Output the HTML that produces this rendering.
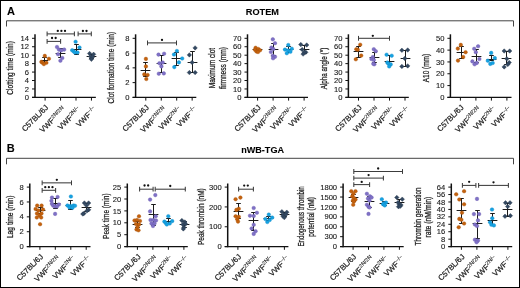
<!DOCTYPE html>
<html><head><meta charset="utf-8"><style>
html,body{margin:0;padding:0;background:#fff;}
#f{position:relative;width:518px;height:286px;border:1px solid #000;overflow:hidden;background:#fff;}
svg{position:absolute;left:-1px;top:-1px;will-change:transform;font-family:"Liberation Sans", sans-serif;}
text{stroke:#1a1a1a;} .t{stroke-width:0.12px;} .x{stroke-width:0.22px;} tspan{stroke-width:0.08px;} .y{stroke-width:0.26px;} .h{stroke-width:0.1px;}
</style></head><body><div id="f">
<svg width="520" height="288" viewBox="0 0 520 288">
<text class="h" x="6.90" y="14.60" font-size="11" text-anchor="start" font-weight="bold" fill="#000" >A</text>
<text class="h" x="262.40" y="14.80" font-size="9.2" text-anchor="middle" font-weight="bold" fill="#000" >ROTEM</text>
<path d="M6.5 26.5V20.8H513.5V26.5" fill="none" stroke="#444" stroke-width="1"/>
<text class="h" x="6.80" y="152.20" font-size="11" text-anchor="start" font-weight="bold" fill="#000" >B</text>
<text class="h" x="262.60" y="152.60" font-size="9.1" text-anchor="middle" font-weight="bold" fill="#000" >nWB-TGA</text>
<path d="M6.5 164.3V158.3H513.5V164.3" fill="none" stroke="#444" stroke-width="1"/>
<line x1="35.00" y1="34.30" x2="35.00" y2="98.00" stroke="#111" stroke-width="1.5"/>
<line x1="32.00" y1="97.40" x2="35.00" y2="97.40" stroke="#111" stroke-width="1.0"/>
<text class="t" x="29.00" y="100.00" font-size="7.6" text-anchor="end" font-weight="normal" fill="#1a1a1a" >0</text>
<line x1="32.00" y1="88.96" x2="35.00" y2="88.96" stroke="#111" stroke-width="1.0"/>
<text class="t" x="29.00" y="91.56" font-size="7.6" text-anchor="end" font-weight="normal" fill="#1a1a1a" >2</text>
<line x1="32.00" y1="80.51" x2="35.00" y2="80.51" stroke="#111" stroke-width="1.0"/>
<text class="t" x="29.00" y="83.11" font-size="7.6" text-anchor="end" font-weight="normal" fill="#1a1a1a" >4</text>
<line x1="32.00" y1="72.07" x2="35.00" y2="72.07" stroke="#111" stroke-width="1.0"/>
<text class="t" x="29.00" y="74.67" font-size="7.6" text-anchor="end" font-weight="normal" fill="#1a1a1a" >6</text>
<line x1="32.00" y1="63.63" x2="35.00" y2="63.63" stroke="#111" stroke-width="1.0"/>
<text class="t" x="29.00" y="66.23" font-size="7.6" text-anchor="end" font-weight="normal" fill="#1a1a1a" >8</text>
<line x1="32.00" y1="55.19" x2="35.00" y2="55.19" stroke="#111" stroke-width="1.0"/>
<text class="t" x="29.00" y="57.79" font-size="7.6" text-anchor="end" font-weight="normal" fill="#1a1a1a" >10</text>
<line x1="32.00" y1="46.74" x2="35.00" y2="46.74" stroke="#111" stroke-width="1.0"/>
<text class="t" x="29.00" y="49.34" font-size="7.6" text-anchor="end" font-weight="normal" fill="#1a1a1a" >12</text>
<line x1="32.00" y1="38.30" x2="35.00" y2="38.30" stroke="#111" stroke-width="1.0"/>
<text class="t" x="29.00" y="40.90" font-size="7.6" text-anchor="end" font-weight="normal" fill="#1a1a1a" >14</text>
<line x1="32.00" y1="97.40" x2="95.85" y2="97.40" stroke="#111" stroke-width="1.25"/>
<line x1="45.10" y1="97.40" x2="45.10" y2="100.60" stroke="#111" stroke-width="1.0"/>
<line x1="60.55" y1="97.40" x2="60.55" y2="100.60" stroke="#111" stroke-width="1.0"/>
<line x1="76.00" y1="97.40" x2="76.00" y2="100.60" stroke="#111" stroke-width="1.0"/>
<line x1="91.45" y1="97.40" x2="91.45" y2="100.60" stroke="#111" stroke-width="1.0"/>
<text class="x" x="0" y="0" font-size="7.7" text-anchor="end" fill="#1a1a1a" transform="translate(48.80,108.00) rotate(-45)">C57BL/6J</text>
<text class="x" x="0" y="0" font-size="7.7" text-anchor="end" fill="#1a1a1a" transform="translate(65.95,109.90) rotate(-45)">VWF<tspan font-size="5.5" dy="-2.7">2N/2N</tspan></text>
<text class="x" x="0" y="0" font-size="7.7" text-anchor="end" fill="#1a1a1a" transform="translate(81.40,109.90) rotate(-45)">VWF<tspan font-size="5.5" dy="-2.7">2N/−</tspan></text>
<text class="x" x="0" y="0" font-size="7.7" text-anchor="end" fill="#1a1a1a" transform="translate(96.85,109.90) rotate(-45)">VWF<tspan font-size="5.5" dy="-2.7">−/−</tspan></text>
<text class="y" x="0" y="0" font-size="9.0" text-anchor="middle" fill="#1a1a1a" textLength="53.6" lengthAdjust="spacingAndGlyphs" transform="translate(13.30,67.85) rotate(-90)">Clotting time (min)</text>
<line x1="47.10" y1="33.90" x2="74.40" y2="33.90" stroke="#3c3c3c" stroke-width="1.05"/>
<line x1="47.10" y1="31.50" x2="47.10" y2="36.30" stroke="#3c3c3c" stroke-width="1.05"/>
<line x1="74.40" y1="31.50" x2="74.40" y2="36.30" stroke="#3c3c3c" stroke-width="1.05"/>
<circle cx="57.80" cy="30.90" r="1.15" fill="#111"/>
<circle cx="61.40" cy="30.90" r="1.15" fill="#111"/>
<circle cx="65.00" cy="30.90" r="1.15" fill="#111"/>
<line x1="78.10" y1="33.90" x2="91.30" y2="33.90" stroke="#3c3c3c" stroke-width="1.05"/>
<line x1="78.10" y1="31.50" x2="78.10" y2="36.30" stroke="#3c3c3c" stroke-width="1.05"/>
<line x1="91.30" y1="31.50" x2="91.30" y2="36.30" stroke="#3c3c3c" stroke-width="1.05"/>
<circle cx="82.90" cy="31.00" r="1.15" fill="#111"/>
<circle cx="86.50" cy="31.00" r="1.15" fill="#111"/>
<line x1="47.10" y1="41.40" x2="60.60" y2="41.40" stroke="#3c3c3c" stroke-width="1.05"/>
<line x1="47.10" y1="39.00" x2="47.10" y2="43.80" stroke="#3c3c3c" stroke-width="1.05"/>
<line x1="60.60" y1="39.00" x2="60.60" y2="43.80" stroke="#3c3c3c" stroke-width="1.05"/>
<circle cx="52.05" cy="38.00" r="1.15" fill="#111"/>
<circle cx="55.65" cy="38.00" r="1.15" fill="#111"/>
<line x1="40.90" y1="60.50" x2="48.10" y2="60.50" stroke="#1a1a1a" stroke-width="1.0"/>
<line x1="44.50" y1="57.50" x2="44.50" y2="62.50" stroke="#1a1a1a" stroke-width="1.0"/>
<line x1="42.20" y1="57.50" x2="46.80" y2="57.50" stroke="#1a1a1a" stroke-width="1.0"/>
<line x1="42.20" y1="62.50" x2="46.80" y2="62.50" stroke="#1a1a1a" stroke-width="1.0"/>
<circle cx="44.80" cy="55.90" r="1.8" fill="#c4620e" stroke="#a85208" stroke-width="0.4"/>
<circle cx="48.90" cy="58.75" r="1.8" fill="#c4620e" stroke="#a85208" stroke-width="0.4"/>
<circle cx="41.40" cy="61.90" r="1.8" fill="#c4620e" stroke="#a85208" stroke-width="0.4"/>
<circle cx="42.60" cy="62.80" r="1.8" fill="#c4620e" stroke="#a85208" stroke-width="0.4"/>
<circle cx="46.40" cy="62.80" r="1.8" fill="#c4620e" stroke="#a85208" stroke-width="0.4"/>
<circle cx="43.90" cy="64.10" r="1.8" fill="#c4620e" stroke="#a85208" stroke-width="0.4"/>
<line x1="55.60" y1="53.50" x2="65.40" y2="53.50" stroke="#1a1a1a" stroke-width="1.0"/>
<line x1="60.50" y1="48.50" x2="60.50" y2="57.50" stroke="#1a1a1a" stroke-width="1.0"/>
<line x1="58.20" y1="48.50" x2="62.80" y2="48.50" stroke="#1a1a1a" stroke-width="1.0"/>
<line x1="58.20" y1="57.50" x2="62.80" y2="57.50" stroke="#1a1a1a" stroke-width="1.0"/>
<circle cx="57.00" cy="47.00" r="1.8" fill="#7f71c6" stroke="#6a5cb0" stroke-width="0.4"/>
<circle cx="58.90" cy="49.60" r="1.8" fill="#7f71c6" stroke="#6a5cb0" stroke-width="0.4"/>
<circle cx="64.20" cy="49.60" r="1.8" fill="#7f71c6" stroke="#6a5cb0" stroke-width="0.4"/>
<circle cx="61.20" cy="50.40" r="1.8" fill="#7f71c6" stroke="#6a5cb0" stroke-width="0.4"/>
<circle cx="58.10" cy="54.20" r="1.8" fill="#7f71c6" stroke="#6a5cb0" stroke-width="0.4"/>
<circle cx="62.30" cy="58.00" r="1.8" fill="#7f71c6" stroke="#6a5cb0" stroke-width="0.4"/>
<circle cx="60.40" cy="60.70" r="1.8" fill="#7f71c6" stroke="#6a5cb0" stroke-width="0.4"/>
<line x1="71.60" y1="49.50" x2="81.40" y2="49.50" stroke="#1a1a1a" stroke-width="1.0"/>
<line x1="76.50" y1="44.50" x2="76.50" y2="54.50" stroke="#1a1a1a" stroke-width="1.0"/>
<line x1="74.20" y1="44.50" x2="78.80" y2="44.50" stroke="#1a1a1a" stroke-width="1.0"/>
<line x1="74.20" y1="54.50" x2="78.80" y2="54.50" stroke="#1a1a1a" stroke-width="1.0"/>
<circle cx="75.60" cy="41.80" r="1.8" fill="#16a2e2" stroke="#0e8cc8" stroke-width="0.4"/>
<circle cx="79.50" cy="47.50" r="1.8" fill="#16a2e2" stroke="#0e8cc8" stroke-width="0.4"/>
<circle cx="72.20" cy="50.20" r="1.8" fill="#16a2e2" stroke="#0e8cc8" stroke-width="0.4"/>
<circle cx="73.70" cy="51.40" r="1.8" fill="#16a2e2" stroke="#0e8cc8" stroke-width="0.4"/>
<circle cx="74.90" cy="52.50" r="1.8" fill="#16a2e2" stroke="#0e8cc8" stroke-width="0.4"/>
<circle cx="77.50" cy="52.50" r="1.8" fill="#16a2e2" stroke="#0e8cc8" stroke-width="0.4"/>
<line x1="86.60" y1="56.50" x2="96.40" y2="56.50" stroke="#1a1a1a" stroke-width="1.0"/>
<line x1="91.50" y1="54.50" x2="91.50" y2="58.50" stroke="#1a1a1a" stroke-width="1.0"/>
<line x1="89.20" y1="54.50" x2="93.80" y2="54.50" stroke="#1a1a1a" stroke-width="1.0"/>
<line x1="89.20" y1="58.50" x2="93.80" y2="58.50" stroke="#1a1a1a" stroke-width="1.0"/>
<path d="M89.60 51.25L91.85 53.50L89.60 55.75L87.35 53.50Z" fill="#334861" stroke="#26384d" stroke-width="0.4" stroke-linejoin="round"/>
<path d="M93.60 52.05L95.85 54.30L93.60 56.55L91.35 54.30Z" fill="#334861" stroke="#26384d" stroke-width="0.4" stroke-linejoin="round"/>
<path d="M90.50 54.25L92.75 56.50L90.50 58.75L88.25 56.50Z" fill="#334861" stroke="#26384d" stroke-width="0.4" stroke-linejoin="round"/>
<path d="M92.50 54.75L94.75 57.00L92.50 59.25L90.25 57.00Z" fill="#334861" stroke="#26384d" stroke-width="0.4" stroke-linejoin="round"/>
<path d="M91.40 57.05L93.65 59.30L91.40 61.55L89.15 59.30Z" fill="#334861" stroke="#26384d" stroke-width="0.4" stroke-linejoin="round"/>
<line x1="135.60" y1="34.30" x2="135.60" y2="98.00" stroke="#111" stroke-width="1.5"/>
<line x1="132.60" y1="97.40" x2="135.60" y2="97.40" stroke="#111" stroke-width="1.0"/>
<text class="t" x="129.60" y="100.00" font-size="7.6" text-anchor="end" font-weight="normal" fill="#1a1a1a" >0</text>
<line x1="132.60" y1="82.62" x2="135.60" y2="82.62" stroke="#111" stroke-width="1.0"/>
<text class="t" x="129.60" y="85.22" font-size="7.6" text-anchor="end" font-weight="normal" fill="#1a1a1a" >2</text>
<line x1="132.60" y1="67.85" x2="135.60" y2="67.85" stroke="#111" stroke-width="1.0"/>
<text class="t" x="129.60" y="70.45" font-size="7.6" text-anchor="end" font-weight="normal" fill="#1a1a1a" >4</text>
<line x1="132.60" y1="53.08" x2="135.60" y2="53.08" stroke="#111" stroke-width="1.0"/>
<text class="t" x="129.60" y="55.68" font-size="7.6" text-anchor="end" font-weight="normal" fill="#1a1a1a" >6</text>
<line x1="132.60" y1="38.30" x2="135.60" y2="38.30" stroke="#111" stroke-width="1.0"/>
<text class="t" x="129.60" y="40.90" font-size="7.6" text-anchor="end" font-weight="normal" fill="#1a1a1a" >8</text>
<line x1="132.60" y1="97.40" x2="196.30" y2="97.40" stroke="#111" stroke-width="1.25"/>
<line x1="145.80" y1="97.40" x2="145.80" y2="100.60" stroke="#111" stroke-width="1.0"/>
<line x1="161.25" y1="97.40" x2="161.25" y2="100.60" stroke="#111" stroke-width="1.0"/>
<line x1="176.70" y1="97.40" x2="176.70" y2="100.60" stroke="#111" stroke-width="1.0"/>
<line x1="192.15" y1="97.40" x2="192.15" y2="100.60" stroke="#111" stroke-width="1.0"/>
<text class="x" x="0" y="0" font-size="7.7" text-anchor="end" fill="#1a1a1a" transform="translate(149.50,108.00) rotate(-45)">C57BL/6J</text>
<text class="x" x="0" y="0" font-size="7.7" text-anchor="end" fill="#1a1a1a" transform="translate(166.65,109.90) rotate(-45)">VWF<tspan font-size="5.5" dy="-2.7">2N/2N</tspan></text>
<text class="x" x="0" y="0" font-size="7.7" text-anchor="end" fill="#1a1a1a" transform="translate(182.10,109.90) rotate(-45)">VWF<tspan font-size="5.5" dy="-2.7">2N/−</tspan></text>
<text class="x" x="0" y="0" font-size="7.7" text-anchor="end" fill="#1a1a1a" transform="translate(197.55,109.90) rotate(-45)">VWF<tspan font-size="5.5" dy="-2.7">−/−</tspan></text>
<text class="y" x="0" y="0" font-size="9.0" text-anchor="middle" fill="#1a1a1a" textLength="71.6" lengthAdjust="spacingAndGlyphs" transform="translate(114.40,67.65) rotate(-90)">Clot formation time (min)</text>
<line x1="147.50" y1="42.90" x2="176.50" y2="42.90" stroke="#3c3c3c" stroke-width="1.05"/>
<line x1="147.50" y1="40.50" x2="147.50" y2="45.30" stroke="#3c3c3c" stroke-width="1.05"/>
<line x1="176.50" y1="40.50" x2="176.50" y2="45.30" stroke="#3c3c3c" stroke-width="1.05"/>
<circle cx="162.00" cy="39.90" r="1.15" fill="#111"/>
<line x1="140.60" y1="70.50" x2="150.40" y2="70.50" stroke="#1a1a1a" stroke-width="1.0"/>
<line x1="145.50" y1="62.50" x2="145.50" y2="76.50" stroke="#1a1a1a" stroke-width="1.0"/>
<line x1="143.20" y1="62.50" x2="147.80" y2="62.50" stroke="#1a1a1a" stroke-width="1.0"/>
<line x1="143.20" y1="76.50" x2="147.80" y2="76.50" stroke="#1a1a1a" stroke-width="1.0"/>
<circle cx="145.90" cy="58.90" r="1.8" fill="#c4620e" stroke="#a85208" stroke-width="0.4"/>
<circle cx="145.90" cy="66.40" r="1.8" fill="#c4620e" stroke="#a85208" stroke-width="0.4"/>
<circle cx="144.30" cy="74.40" r="1.8" fill="#c4620e" stroke="#a85208" stroke-width="0.4"/>
<circle cx="147.60" cy="75.00" r="1.8" fill="#c4620e" stroke="#a85208" stroke-width="0.4"/>
<circle cx="146.30" cy="79.00" r="1.8" fill="#c4620e" stroke="#a85208" stroke-width="0.4"/>
<line x1="156.60" y1="63.50" x2="166.40" y2="63.50" stroke="#1a1a1a" stroke-width="1.0"/>
<line x1="161.50" y1="55.50" x2="161.50" y2="72.50" stroke="#1a1a1a" stroke-width="1.0"/>
<line x1="159.20" y1="55.50" x2="163.80" y2="55.50" stroke="#1a1a1a" stroke-width="1.0"/>
<line x1="159.20" y1="72.50" x2="163.80" y2="72.50" stroke="#1a1a1a" stroke-width="1.0"/>
<circle cx="158.50" cy="54.60" r="1.8" fill="#7f71c6" stroke="#6a5cb0" stroke-width="0.4"/>
<circle cx="164.10" cy="53.70" r="1.8" fill="#7f71c6" stroke="#6a5cb0" stroke-width="0.4"/>
<circle cx="159.40" cy="63.20" r="1.8" fill="#7f71c6" stroke="#6a5cb0" stroke-width="0.4"/>
<circle cx="162.70" cy="62.50" r="1.8" fill="#7f71c6" stroke="#6a5cb0" stroke-width="0.4"/>
<circle cx="161.40" cy="66.40" r="1.8" fill="#7f71c6" stroke="#6a5cb0" stroke-width="0.4"/>
<circle cx="158.80" cy="73.70" r="1.8" fill="#7f71c6" stroke="#6a5cb0" stroke-width="0.4"/>
<circle cx="163.80" cy="73.40" r="1.8" fill="#7f71c6" stroke="#6a5cb0" stroke-width="0.4"/>
<line x1="171.60" y1="58.50" x2="181.40" y2="58.50" stroke="#1a1a1a" stroke-width="1.0"/>
<line x1="176.50" y1="52.50" x2="176.50" y2="65.50" stroke="#1a1a1a" stroke-width="1.0"/>
<line x1="174.20" y1="52.50" x2="178.80" y2="52.50" stroke="#1a1a1a" stroke-width="1.0"/>
<line x1="174.20" y1="65.50" x2="178.80" y2="65.50" stroke="#1a1a1a" stroke-width="1.0"/>
<circle cx="176.90" cy="51.00" r="1.8" fill="#16a2e2" stroke="#0e8cc8" stroke-width="0.4"/>
<circle cx="174.00" cy="54.50" r="1.8" fill="#16a2e2" stroke="#0e8cc8" stroke-width="0.4"/>
<circle cx="182.20" cy="58.50" r="1.8" fill="#16a2e2" stroke="#0e8cc8" stroke-width="0.4"/>
<circle cx="178.90" cy="62.40" r="1.8" fill="#16a2e2" stroke="#0e8cc8" stroke-width="0.4"/>
<circle cx="174.30" cy="67.10" r="1.8" fill="#16a2e2" stroke="#0e8cc8" stroke-width="0.4"/>
<line x1="187.60" y1="62.50" x2="197.40" y2="62.50" stroke="#1a1a1a" stroke-width="1.0"/>
<line x1="192.50" y1="51.50" x2="192.50" y2="72.50" stroke="#1a1a1a" stroke-width="1.0"/>
<line x1="190.20" y1="51.50" x2="194.80" y2="51.50" stroke="#1a1a1a" stroke-width="1.0"/>
<line x1="190.20" y1="72.50" x2="194.80" y2="72.50" stroke="#1a1a1a" stroke-width="1.0"/>
<path d="M195.10 45.65L197.35 47.90L195.10 50.15L192.85 47.90Z" fill="#334861" stroke="#26384d" stroke-width="0.4" stroke-linejoin="round"/>
<path d="M189.40 52.65L191.65 54.90L189.40 57.15L187.15 54.90Z" fill="#334861" stroke="#26384d" stroke-width="0.4" stroke-linejoin="round"/>
<path d="M192.10 60.15L194.35 62.40L192.10 64.65L189.85 62.40Z" fill="#334861" stroke="#26384d" stroke-width="0.4" stroke-linejoin="round"/>
<path d="M189.40 70.35L191.65 72.60L189.40 74.85L187.15 72.60Z" fill="#334861" stroke="#26384d" stroke-width="0.4" stroke-linejoin="round"/>
<path d="M195.10 70.35L197.35 72.60L195.10 74.85L192.85 72.60Z" fill="#334861" stroke="#26384d" stroke-width="0.4" stroke-linejoin="round"/>
<line x1="247.50" y1="34.30" x2="247.50" y2="98.00" stroke="#111" stroke-width="1.5"/>
<line x1="244.50" y1="97.40" x2="247.50" y2="97.40" stroke="#111" stroke-width="1.0"/>
<text class="t" x="241.50" y="100.00" font-size="7.6" text-anchor="end" font-weight="normal" fill="#1a1a1a" >0</text>
<line x1="244.50" y1="88.96" x2="247.50" y2="88.96" stroke="#111" stroke-width="1.0"/>
<text class="t" x="241.50" y="91.56" font-size="7.6" text-anchor="end" font-weight="normal" fill="#1a1a1a" >10</text>
<line x1="244.50" y1="80.51" x2="247.50" y2="80.51" stroke="#111" stroke-width="1.0"/>
<text class="t" x="241.50" y="83.11" font-size="7.6" text-anchor="end" font-weight="normal" fill="#1a1a1a" >20</text>
<line x1="244.50" y1="72.07" x2="247.50" y2="72.07" stroke="#111" stroke-width="1.0"/>
<text class="t" x="241.50" y="74.67" font-size="7.6" text-anchor="end" font-weight="normal" fill="#1a1a1a" >30</text>
<line x1="244.50" y1="63.63" x2="247.50" y2="63.63" stroke="#111" stroke-width="1.0"/>
<text class="t" x="241.50" y="66.23" font-size="7.6" text-anchor="end" font-weight="normal" fill="#1a1a1a" >40</text>
<line x1="244.50" y1="55.19" x2="247.50" y2="55.19" stroke="#111" stroke-width="1.0"/>
<text class="t" x="241.50" y="57.79" font-size="7.6" text-anchor="end" font-weight="normal" fill="#1a1a1a" >50</text>
<line x1="244.50" y1="46.74" x2="247.50" y2="46.74" stroke="#111" stroke-width="1.0"/>
<text class="t" x="241.50" y="49.34" font-size="7.6" text-anchor="end" font-weight="normal" fill="#1a1a1a" >60</text>
<line x1="244.50" y1="38.30" x2="247.50" y2="38.30" stroke="#111" stroke-width="1.0"/>
<text class="t" x="241.50" y="40.90" font-size="7.6" text-anchor="end" font-weight="normal" fill="#1a1a1a" >70</text>
<line x1="244.50" y1="97.40" x2="308.00" y2="97.40" stroke="#111" stroke-width="1.25"/>
<line x1="257.60" y1="97.40" x2="257.60" y2="100.60" stroke="#111" stroke-width="1.0"/>
<line x1="273.10" y1="97.40" x2="273.10" y2="100.60" stroke="#111" stroke-width="1.0"/>
<line x1="288.60" y1="97.40" x2="288.60" y2="100.60" stroke="#111" stroke-width="1.0"/>
<line x1="304.10" y1="97.40" x2="304.10" y2="100.60" stroke="#111" stroke-width="1.0"/>
<text class="x" x="0" y="0" font-size="7.7" text-anchor="end" fill="#1a1a1a" transform="translate(261.30,108.00) rotate(-45)">C57BL/6J</text>
<text class="x" x="0" y="0" font-size="7.7" text-anchor="end" fill="#1a1a1a" transform="translate(278.50,109.90) rotate(-45)">VWF<tspan font-size="5.5" dy="-2.7">2N/2N</tspan></text>
<text class="x" x="0" y="0" font-size="7.7" text-anchor="end" fill="#1a1a1a" transform="translate(294.00,109.90) rotate(-45)">VWF<tspan font-size="5.5" dy="-2.7">2N/−</tspan></text>
<text class="x" x="0" y="0" font-size="7.7" text-anchor="end" fill="#1a1a1a" transform="translate(309.50,109.90) rotate(-45)">VWF<tspan font-size="5.5" dy="-2.7">−/−</tspan></text>
<text class="y" x="0" y="0" font-size="9.0" text-anchor="middle" fill="#1a1a1a" textLength="40.4" lengthAdjust="spacingAndGlyphs" transform="translate(215.30,68.05) rotate(-90)">Maximum clot</text>
<text class="y" x="0" y="0" font-size="9.0" text-anchor="middle" fill="#1a1a1a" textLength="42.1" lengthAdjust="spacingAndGlyphs" transform="translate(226.00,68.00) rotate(-90)">firmness (mm)</text>
<line x1="252.60" y1="49.50" x2="262.40" y2="49.50" stroke="#1a1a1a" stroke-width="1.0"/>
<line x1="257.50" y1="48.50" x2="257.50" y2="50.50" stroke="#1a1a1a" stroke-width="1.0"/>
<line x1="255.20" y1="48.50" x2="259.80" y2="48.50" stroke="#1a1a1a" stroke-width="1.0"/>
<line x1="255.20" y1="50.50" x2="259.80" y2="50.50" stroke="#1a1a1a" stroke-width="1.0"/>
<circle cx="255.60" cy="47.80" r="1.8" fill="#c4620e" stroke="#a85208" stroke-width="0.4"/>
<circle cx="258.30" cy="49.00" r="1.8" fill="#c4620e" stroke="#a85208" stroke-width="0.4"/>
<circle cx="260.00" cy="50.30" r="1.8" fill="#c4620e" stroke="#a85208" stroke-width="0.4"/>
<circle cx="255.00" cy="49.80" r="1.8" fill="#c4620e" stroke="#a85208" stroke-width="0.4"/>
<circle cx="256.50" cy="51.50" r="1.8" fill="#c4620e" stroke="#a85208" stroke-width="0.4"/>
<circle cx="258.00" cy="52.00" r="1.8" fill="#c4620e" stroke="#a85208" stroke-width="0.4"/>
<line x1="268.60" y1="49.50" x2="278.40" y2="49.50" stroke="#1a1a1a" stroke-width="1.0"/>
<line x1="273.50" y1="43.50" x2="273.50" y2="55.50" stroke="#1a1a1a" stroke-width="1.0"/>
<line x1="271.20" y1="43.50" x2="275.80" y2="43.50" stroke="#1a1a1a" stroke-width="1.0"/>
<line x1="271.20" y1="55.50" x2="275.80" y2="55.50" stroke="#1a1a1a" stroke-width="1.0"/>
<circle cx="272.80" cy="39.30" r="1.8" fill="#7f71c6" stroke="#6a5cb0" stroke-width="0.4"/>
<circle cx="275.00" cy="43.20" r="1.8" fill="#7f71c6" stroke="#6a5cb0" stroke-width="0.4"/>
<circle cx="271.40" cy="47.60" r="1.8" fill="#7f71c6" stroke="#6a5cb0" stroke-width="0.4"/>
<circle cx="273.30" cy="49.00" r="1.8" fill="#7f71c6" stroke="#6a5cb0" stroke-width="0.4"/>
<circle cx="270.90" cy="52.00" r="1.8" fill="#7f71c6" stroke="#6a5cb0" stroke-width="0.4"/>
<circle cx="272.80" cy="55.80" r="1.8" fill="#7f71c6" stroke="#6a5cb0" stroke-width="0.4"/>
<circle cx="275.00" cy="56.80" r="1.8" fill="#7f71c6" stroke="#6a5cb0" stroke-width="0.4"/>
<circle cx="273.10" cy="58.30" r="1.8" fill="#7f71c6" stroke="#6a5cb0" stroke-width="0.4"/>
<line x1="283.60" y1="49.50" x2="293.40" y2="49.50" stroke="#1a1a1a" stroke-width="1.0"/>
<line x1="288.50" y1="46.50" x2="288.50" y2="52.50" stroke="#1a1a1a" stroke-width="1.0"/>
<line x1="286.20" y1="46.50" x2="290.80" y2="46.50" stroke="#1a1a1a" stroke-width="1.0"/>
<line x1="286.20" y1="52.50" x2="290.80" y2="52.50" stroke="#1a1a1a" stroke-width="1.0"/>
<circle cx="288.30" cy="45.00" r="1.8" fill="#16a2e2" stroke="#0e8cc8" stroke-width="0.4"/>
<circle cx="285.00" cy="49.60" r="1.8" fill="#16a2e2" stroke="#0e8cc8" stroke-width="0.4"/>
<circle cx="291.80" cy="48.70" r="1.8" fill="#16a2e2" stroke="#0e8cc8" stroke-width="0.4"/>
<circle cx="288.10" cy="50.50" r="1.8" fill="#16a2e2" stroke="#0e8cc8" stroke-width="0.4"/>
<circle cx="290.40" cy="51.80" r="1.8" fill="#16a2e2" stroke="#0e8cc8" stroke-width="0.4"/>
<circle cx="286.80" cy="53.20" r="1.8" fill="#16a2e2" stroke="#0e8cc8" stroke-width="0.4"/>
<line x1="299.60" y1="49.50" x2="309.40" y2="49.50" stroke="#1a1a1a" stroke-width="1.0"/>
<line x1="304.50" y1="45.50" x2="304.50" y2="53.50" stroke="#1a1a1a" stroke-width="1.0"/>
<line x1="302.20" y1="45.50" x2="306.80" y2="45.50" stroke="#1a1a1a" stroke-width="1.0"/>
<line x1="302.20" y1="53.50" x2="306.80" y2="53.50" stroke="#1a1a1a" stroke-width="1.0"/>
<path d="M300.80 42.35L303.05 44.60L300.80 46.85L298.55 44.60Z" fill="#334861" stroke="#26384d" stroke-width="0.4" stroke-linejoin="round"/>
<path d="M306.70 42.75L308.95 45.00L306.70 47.25L304.45 45.00Z" fill="#334861" stroke="#26384d" stroke-width="0.4" stroke-linejoin="round"/>
<path d="M302.20 47.35L304.45 49.60L302.20 51.85L299.95 49.60Z" fill="#334861" stroke="#26384d" stroke-width="0.4" stroke-linejoin="round"/>
<path d="M305.80 50.05L308.05 52.30L305.80 54.55L303.55 52.30Z" fill="#334861" stroke="#26384d" stroke-width="0.4" stroke-linejoin="round"/>
<path d="M304.40 50.05L306.65 52.30L304.40 54.55L302.15 52.30Z" fill="#334861" stroke="#26384d" stroke-width="0.4" stroke-linejoin="round"/>
<path d="M303.10 51.85L305.35 54.10L303.10 56.35L300.85 54.10Z" fill="#334861" stroke="#26384d" stroke-width="0.4" stroke-linejoin="round"/>
<line x1="348.40" y1="34.30" x2="348.40" y2="98.00" stroke="#111" stroke-width="1.5"/>
<line x1="345.40" y1="97.40" x2="348.40" y2="97.40" stroke="#111" stroke-width="1.0"/>
<text class="t" x="342.40" y="100.00" font-size="7.6" text-anchor="end" font-weight="normal" fill="#1a1a1a" >0</text>
<line x1="345.40" y1="88.96" x2="348.40" y2="88.96" stroke="#111" stroke-width="1.0"/>
<text class="t" x="342.40" y="91.56" font-size="7.6" text-anchor="end" font-weight="normal" fill="#1a1a1a" >10</text>
<line x1="345.40" y1="80.51" x2="348.40" y2="80.51" stroke="#111" stroke-width="1.0"/>
<text class="t" x="342.40" y="83.11" font-size="7.6" text-anchor="end" font-weight="normal" fill="#1a1a1a" >20</text>
<line x1="345.40" y1="72.07" x2="348.40" y2="72.07" stroke="#111" stroke-width="1.0"/>
<text class="t" x="342.40" y="74.67" font-size="7.6" text-anchor="end" font-weight="normal" fill="#1a1a1a" >30</text>
<line x1="345.40" y1="63.63" x2="348.40" y2="63.63" stroke="#111" stroke-width="1.0"/>
<text class="t" x="342.40" y="66.23" font-size="7.6" text-anchor="end" font-weight="normal" fill="#1a1a1a" >40</text>
<line x1="345.40" y1="55.19" x2="348.40" y2="55.19" stroke="#111" stroke-width="1.0"/>
<text class="t" x="342.40" y="57.79" font-size="7.6" text-anchor="end" font-weight="normal" fill="#1a1a1a" >50</text>
<line x1="345.40" y1="46.74" x2="348.40" y2="46.74" stroke="#111" stroke-width="1.0"/>
<text class="t" x="342.40" y="49.34" font-size="7.6" text-anchor="end" font-weight="normal" fill="#1a1a1a" >60</text>
<line x1="345.40" y1="38.30" x2="348.40" y2="38.30" stroke="#111" stroke-width="1.0"/>
<text class="t" x="342.40" y="40.90" font-size="7.6" text-anchor="end" font-weight="normal" fill="#1a1a1a" >70</text>
<line x1="345.40" y1="97.40" x2="408.80" y2="97.40" stroke="#111" stroke-width="1.25"/>
<line x1="358.50" y1="97.40" x2="358.50" y2="100.60" stroke="#111" stroke-width="1.0"/>
<line x1="374.00" y1="97.40" x2="374.00" y2="100.60" stroke="#111" stroke-width="1.0"/>
<line x1="389.50" y1="97.40" x2="389.50" y2="100.60" stroke="#111" stroke-width="1.0"/>
<line x1="405.00" y1="97.40" x2="405.00" y2="100.60" stroke="#111" stroke-width="1.0"/>
<text class="x" x="0" y="0" font-size="7.7" text-anchor="end" fill="#1a1a1a" transform="translate(362.20,108.00) rotate(-45)">C57BL/6J</text>
<text class="x" x="0" y="0" font-size="7.7" text-anchor="end" fill="#1a1a1a" transform="translate(379.40,109.90) rotate(-45)">VWF<tspan font-size="5.5" dy="-2.7">2N/2N</tspan></text>
<text class="x" x="0" y="0" font-size="7.7" text-anchor="end" fill="#1a1a1a" transform="translate(394.90,109.90) rotate(-45)">VWF<tspan font-size="5.5" dy="-2.7">2N/−</tspan></text>
<text class="x" x="0" y="0" font-size="7.7" text-anchor="end" fill="#1a1a1a" transform="translate(410.40,109.90) rotate(-45)">VWF<tspan font-size="5.5" dy="-2.7">−/−</tspan></text>
<text class="y" x="0" y="0" font-size="9.0" text-anchor="middle" fill="#1a1a1a" textLength="41.5" lengthAdjust="spacingAndGlyphs" transform="translate(326.50,68.50) rotate(-90)">Alpha angle (°)</text>
<line x1="358.50" y1="38.30" x2="389.50" y2="38.30" stroke="#3c3c3c" stroke-width="1.05"/>
<line x1="358.50" y1="35.90" x2="358.50" y2="40.70" stroke="#3c3c3c" stroke-width="1.05"/>
<line x1="389.50" y1="35.90" x2="389.50" y2="40.70" stroke="#3c3c3c" stroke-width="1.05"/>
<circle cx="372.80" cy="35.80" r="1.15" fill="#111"/>
<line x1="353.60" y1="51.50" x2="363.40" y2="51.50" stroke="#1a1a1a" stroke-width="1.0"/>
<line x1="358.50" y1="46.50" x2="358.50" y2="57.50" stroke="#1a1a1a" stroke-width="1.0"/>
<line x1="356.20" y1="46.50" x2="360.80" y2="46.50" stroke="#1a1a1a" stroke-width="1.0"/>
<line x1="356.20" y1="57.50" x2="360.80" y2="57.50" stroke="#1a1a1a" stroke-width="1.0"/>
<circle cx="360.20" cy="44.70" r="1.8" fill="#c4620e" stroke="#a85208" stroke-width="0.4"/>
<circle cx="356.30" cy="49.20" r="1.8" fill="#c4620e" stroke="#a85208" stroke-width="0.4"/>
<circle cx="357.80" cy="49.70" r="1.8" fill="#c4620e" stroke="#a85208" stroke-width="0.4"/>
<circle cx="361.20" cy="55.60" r="1.8" fill="#c4620e" stroke="#a85208" stroke-width="0.4"/>
<circle cx="355.80" cy="59.30" r="1.8" fill="#c4620e" stroke="#a85208" stroke-width="0.4"/>
<line x1="369.60" y1="57.50" x2="379.40" y2="57.50" stroke="#1a1a1a" stroke-width="1.0"/>
<line x1="374.50" y1="52.50" x2="374.50" y2="62.50" stroke="#1a1a1a" stroke-width="1.0"/>
<line x1="372.20" y1="52.50" x2="376.80" y2="52.50" stroke="#1a1a1a" stroke-width="1.0"/>
<line x1="372.20" y1="62.50" x2="376.80" y2="62.50" stroke="#1a1a1a" stroke-width="1.0"/>
<circle cx="373.80" cy="49.20" r="1.8" fill="#7f71c6" stroke="#6a5cb0" stroke-width="0.4"/>
<circle cx="375.80" cy="51.20" r="1.8" fill="#7f71c6" stroke="#6a5cb0" stroke-width="0.4"/>
<circle cx="372.90" cy="57.00" r="1.8" fill="#7f71c6" stroke="#6a5cb0" stroke-width="0.4"/>
<circle cx="371.40" cy="59.00" r="1.8" fill="#7f71c6" stroke="#6a5cb0" stroke-width="0.4"/>
<circle cx="373.80" cy="60.00" r="1.8" fill="#7f71c6" stroke="#6a5cb0" stroke-width="0.4"/>
<circle cx="374.30" cy="64.30" r="1.8" fill="#7f71c6" stroke="#6a5cb0" stroke-width="0.4"/>
<circle cx="373.30" cy="63.80" r="1.8" fill="#7f71c6" stroke="#6a5cb0" stroke-width="0.4"/>
<line x1="384.60" y1="61.50" x2="394.40" y2="61.50" stroke="#1a1a1a" stroke-width="1.0"/>
<line x1="389.50" y1="55.50" x2="389.50" y2="63.50" stroke="#1a1a1a" stroke-width="1.0"/>
<line x1="387.20" y1="55.50" x2="391.80" y2="55.50" stroke="#1a1a1a" stroke-width="1.0"/>
<line x1="387.20" y1="63.50" x2="391.80" y2="63.50" stroke="#1a1a1a" stroke-width="1.0"/>
<circle cx="386.60" cy="54.70" r="1.8" fill="#16a2e2" stroke="#0e8cc8" stroke-width="0.4"/>
<circle cx="391.70" cy="55.70" r="1.8" fill="#16a2e2" stroke="#0e8cc8" stroke-width="0.4"/>
<circle cx="387.30" cy="62.50" r="1.8" fill="#16a2e2" stroke="#0e8cc8" stroke-width="0.4"/>
<circle cx="388.30" cy="63.50" r="1.8" fill="#16a2e2" stroke="#0e8cc8" stroke-width="0.4"/>
<circle cx="390.70" cy="64.40" r="1.8" fill="#16a2e2" stroke="#0e8cc8" stroke-width="0.4"/>
<circle cx="389.20" cy="66.40" r="1.8" fill="#16a2e2" stroke="#0e8cc8" stroke-width="0.4"/>
<line x1="400.60" y1="58.50" x2="410.40" y2="58.50" stroke="#1a1a1a" stroke-width="1.0"/>
<line x1="405.50" y1="50.50" x2="405.50" y2="66.50" stroke="#1a1a1a" stroke-width="1.0"/>
<line x1="403.20" y1="50.50" x2="407.80" y2="50.50" stroke="#1a1a1a" stroke-width="1.0"/>
<line x1="403.20" y1="66.50" x2="407.80" y2="66.50" stroke="#1a1a1a" stroke-width="1.0"/>
<path d="M401.90 48.05L404.15 50.30L401.90 52.55L399.65 50.30Z" fill="#334861" stroke="#26384d" stroke-width="0.4" stroke-linejoin="round"/>
<path d="M407.70 47.75L409.95 50.00L407.70 52.25L405.45 50.00Z" fill="#334861" stroke="#26384d" stroke-width="0.4" stroke-linejoin="round"/>
<path d="M404.80 56.15L407.05 58.40L404.80 60.65L402.55 58.40Z" fill="#334861" stroke="#26384d" stroke-width="0.4" stroke-linejoin="round"/>
<path d="M401.90 64.15L404.15 66.40L401.90 68.65L399.65 66.40Z" fill="#334861" stroke="#26384d" stroke-width="0.4" stroke-linejoin="round"/>
<path d="M407.70 63.65L409.95 65.90L407.70 68.15L405.45 65.90Z" fill="#334861" stroke="#26384d" stroke-width="0.4" stroke-linejoin="round"/>
<line x1="450.40" y1="34.30" x2="450.40" y2="98.00" stroke="#111" stroke-width="1.5"/>
<line x1="447.40" y1="97.40" x2="450.40" y2="97.40" stroke="#111" stroke-width="1.0"/>
<text class="t" x="444.40" y="100.00" font-size="7.6" text-anchor="end" font-weight="normal" fill="#1a1a1a" >0</text>
<line x1="447.40" y1="85.58" x2="450.40" y2="85.58" stroke="#111" stroke-width="1.0"/>
<text class="t" x="444.40" y="88.18" font-size="7.6" text-anchor="end" font-weight="normal" fill="#1a1a1a" >10</text>
<line x1="447.40" y1="73.76" x2="450.40" y2="73.76" stroke="#111" stroke-width="1.0"/>
<text class="t" x="444.40" y="76.36" font-size="7.6" text-anchor="end" font-weight="normal" fill="#1a1a1a" >20</text>
<line x1="447.40" y1="61.94" x2="450.40" y2="61.94" stroke="#111" stroke-width="1.0"/>
<text class="t" x="444.40" y="64.54" font-size="7.6" text-anchor="end" font-weight="normal" fill="#1a1a1a" >30</text>
<line x1="447.40" y1="50.12" x2="450.40" y2="50.12" stroke="#111" stroke-width="1.0"/>
<text class="t" x="444.40" y="52.72" font-size="7.6" text-anchor="end" font-weight="normal" fill="#1a1a1a" >40</text>
<line x1="447.40" y1="38.30" x2="450.40" y2="38.30" stroke="#111" stroke-width="1.0"/>
<text class="t" x="444.40" y="40.90" font-size="7.6" text-anchor="end" font-weight="normal" fill="#1a1a1a" >50</text>
<line x1="447.40" y1="97.40" x2="511.50" y2="97.40" stroke="#111" stroke-width="1.25"/>
<line x1="460.40" y1="97.40" x2="460.40" y2="100.60" stroke="#111" stroke-width="1.0"/>
<line x1="475.90" y1="97.40" x2="475.90" y2="100.60" stroke="#111" stroke-width="1.0"/>
<line x1="491.40" y1="97.40" x2="491.40" y2="100.60" stroke="#111" stroke-width="1.0"/>
<line x1="506.90" y1="97.40" x2="506.90" y2="100.60" stroke="#111" stroke-width="1.0"/>
<text class="x" x="0" y="0" font-size="7.7" text-anchor="end" fill="#1a1a1a" transform="translate(464.10,108.00) rotate(-45)">C57BL/6J</text>
<text class="x" x="0" y="0" font-size="7.7" text-anchor="end" fill="#1a1a1a" transform="translate(481.30,109.90) rotate(-45)">VWF<tspan font-size="5.5" dy="-2.7">2N/2N</tspan></text>
<text class="x" x="0" y="0" font-size="7.7" text-anchor="end" fill="#1a1a1a" transform="translate(496.80,109.90) rotate(-45)">VWF<tspan font-size="5.5" dy="-2.7">2N/−</tspan></text>
<text class="x" x="0" y="0" font-size="7.7" text-anchor="end" fill="#1a1a1a" transform="translate(512.30,109.90) rotate(-45)">VWF<tspan font-size="5.5" dy="-2.7">−/−</tspan></text>
<text class="y" x="0" y="0" font-size="9.0" text-anchor="middle" fill="#1a1a1a" textLength="28.4" lengthAdjust="spacingAndGlyphs" transform="translate(429.20,68.05) rotate(-90)">A10 (mm)</text>
<line x1="456.60" y1="52.50" x2="466.40" y2="52.50" stroke="#1a1a1a" stroke-width="1.0"/>
<line x1="461.50" y1="46.50" x2="461.50" y2="58.50" stroke="#1a1a1a" stroke-width="1.0"/>
<line x1="459.20" y1="46.50" x2="463.80" y2="46.50" stroke="#1a1a1a" stroke-width="1.0"/>
<line x1="459.20" y1="58.50" x2="463.80" y2="58.50" stroke="#1a1a1a" stroke-width="1.0"/>
<circle cx="460.80" cy="44.90" r="1.8" fill="#c4620e" stroke="#a85208" stroke-width="0.4"/>
<circle cx="457.80" cy="48.60" r="1.8" fill="#c4620e" stroke="#a85208" stroke-width="0.4"/>
<circle cx="465.60" cy="52.20" r="1.8" fill="#c4620e" stroke="#a85208" stroke-width="0.4"/>
<circle cx="463.20" cy="57.00" r="1.8" fill="#c4620e" stroke="#a85208" stroke-width="0.4"/>
<circle cx="458.00" cy="60.60" r="1.8" fill="#c4620e" stroke="#a85208" stroke-width="0.4"/>
<line x1="471.60" y1="56.50" x2="481.40" y2="56.50" stroke="#1a1a1a" stroke-width="1.0"/>
<line x1="476.50" y1="49.50" x2="476.50" y2="62.50" stroke="#1a1a1a" stroke-width="1.0"/>
<line x1="474.20" y1="49.50" x2="478.80" y2="49.50" stroke="#1a1a1a" stroke-width="1.0"/>
<line x1="474.20" y1="62.50" x2="478.80" y2="62.50" stroke="#1a1a1a" stroke-width="1.0"/>
<circle cx="478.10" cy="46.30" r="1.8" fill="#7f71c6" stroke="#6a5cb0" stroke-width="0.4"/>
<circle cx="474.20" cy="48.80" r="1.8" fill="#7f71c6" stroke="#6a5cb0" stroke-width="0.4"/>
<circle cx="475.80" cy="52.20" r="1.8" fill="#7f71c6" stroke="#6a5cb0" stroke-width="0.4"/>
<circle cx="479.40" cy="59.00" r="1.8" fill="#7f71c6" stroke="#6a5cb0" stroke-width="0.4"/>
<circle cx="472.40" cy="61.40" r="1.8" fill="#7f71c6" stroke="#6a5cb0" stroke-width="0.4"/>
<circle cx="476.80" cy="62.90" r="1.8" fill="#7f71c6" stroke="#6a5cb0" stroke-width="0.4"/>
<circle cx="474.60" cy="64.30" r="1.8" fill="#7f71c6" stroke="#6a5cb0" stroke-width="0.4"/>
<line x1="486.60" y1="59.50" x2="496.40" y2="59.50" stroke="#1a1a1a" stroke-width="1.0"/>
<line x1="491.50" y1="55.50" x2="491.50" y2="60.50" stroke="#1a1a1a" stroke-width="1.0"/>
<line x1="489.20" y1="55.50" x2="493.80" y2="55.50" stroke="#1a1a1a" stroke-width="1.0"/>
<line x1="489.20" y1="60.50" x2="493.80" y2="60.50" stroke="#1a1a1a" stroke-width="1.0"/>
<circle cx="491.20" cy="52.90" r="1.8" fill="#16a2e2" stroke="#0e8cc8" stroke-width="0.4"/>
<circle cx="494.80" cy="58.10" r="1.8" fill="#16a2e2" stroke="#0e8cc8" stroke-width="0.4"/>
<circle cx="487.80" cy="60.70" r="1.8" fill="#16a2e2" stroke="#0e8cc8" stroke-width="0.4"/>
<circle cx="490.30" cy="63.90" r="1.8" fill="#16a2e2" stroke="#0e8cc8" stroke-width="0.4"/>
<circle cx="492.70" cy="63.00" r="1.8" fill="#16a2e2" stroke="#0e8cc8" stroke-width="0.4"/>
<line x1="501.60" y1="58.50" x2="511.40" y2="58.50" stroke="#1a1a1a" stroke-width="1.0"/>
<line x1="506.50" y1="51.50" x2="506.50" y2="64.50" stroke="#1a1a1a" stroke-width="1.0"/>
<line x1="504.20" y1="51.50" x2="508.80" y2="51.50" stroke="#1a1a1a" stroke-width="1.0"/>
<line x1="504.20" y1="64.50" x2="508.80" y2="64.50" stroke="#1a1a1a" stroke-width="1.0"/>
<path d="M504.20 48.75L506.45 51.00L504.20 53.25L501.95 51.00Z" fill="#334861" stroke="#26384d" stroke-width="0.4" stroke-linejoin="round"/>
<path d="M509.70 48.75L511.95 51.00L509.70 53.25L507.45 51.00Z" fill="#334861" stroke="#26384d" stroke-width="0.4" stroke-linejoin="round"/>
<path d="M506.80 56.55L509.05 58.80L506.80 61.05L504.55 58.80Z" fill="#334861" stroke="#26384d" stroke-width="0.4" stroke-linejoin="round"/>
<path d="M509.20 60.25L511.45 62.50L509.20 64.75L506.95 62.50Z" fill="#334861" stroke="#26384d" stroke-width="0.4" stroke-linejoin="round"/>
<path d="M507.80 62.15L510.05 64.40L507.80 66.65L505.55 64.40Z" fill="#334861" stroke="#26384d" stroke-width="0.4" stroke-linejoin="round"/>
<path d="M504.20 64.65L506.45 66.90L504.20 69.15L501.95 66.90Z" fill="#334861" stroke="#26384d" stroke-width="0.4" stroke-linejoin="round"/>
<line x1="29.80" y1="183.50" x2="29.80" y2="247.20" stroke="#111" stroke-width="1.5"/>
<line x1="26.80" y1="246.60" x2="29.80" y2="246.60" stroke="#111" stroke-width="1.0"/>
<text class="t" x="23.80" y="249.20" font-size="7.6" text-anchor="end" font-weight="normal" fill="#1a1a1a" >0</text>
<line x1="26.80" y1="231.72" x2="29.80" y2="231.72" stroke="#111" stroke-width="1.0"/>
<text class="t" x="23.80" y="234.32" font-size="7.6" text-anchor="end" font-weight="normal" fill="#1a1a1a" >2</text>
<line x1="26.80" y1="216.85" x2="29.80" y2="216.85" stroke="#111" stroke-width="1.0"/>
<text class="t" x="23.80" y="219.45" font-size="7.6" text-anchor="end" font-weight="normal" fill="#1a1a1a" >4</text>
<line x1="26.80" y1="201.97" x2="29.80" y2="201.97" stroke="#111" stroke-width="1.0"/>
<text class="t" x="23.80" y="204.57" font-size="7.6" text-anchor="end" font-weight="normal" fill="#1a1a1a" >6</text>
<line x1="26.80" y1="187.10" x2="29.80" y2="187.10" stroke="#111" stroke-width="1.0"/>
<text class="t" x="23.80" y="189.70" font-size="7.6" text-anchor="end" font-weight="normal" fill="#1a1a1a" >8</text>
<line x1="26.80" y1="246.60" x2="90.50" y2="246.60" stroke="#111" stroke-width="1.25"/>
<line x1="39.90" y1="246.60" x2="39.90" y2="249.80" stroke="#111" stroke-width="1.0"/>
<line x1="55.30" y1="246.60" x2="55.30" y2="249.80" stroke="#111" stroke-width="1.0"/>
<line x1="70.80" y1="246.60" x2="70.80" y2="249.80" stroke="#111" stroke-width="1.0"/>
<line x1="86.20" y1="246.60" x2="86.20" y2="249.80" stroke="#111" stroke-width="1.0"/>
<text class="x" x="0" y="0" font-size="7.7" text-anchor="end" fill="#1a1a1a" transform="translate(43.60,257.20) rotate(-45)">C57BL/6J</text>
<text class="x" x="0" y="0" font-size="7.7" text-anchor="end" fill="#1a1a1a" transform="translate(60.70,259.10) rotate(-45)">VWF<tspan font-size="5.5" dy="-2.7">2N/2N</tspan></text>
<text class="x" x="0" y="0" font-size="7.7" text-anchor="end" fill="#1a1a1a" transform="translate(76.20,259.10) rotate(-45)">VWF<tspan font-size="5.5" dy="-2.7">2N/−</tspan></text>
<text class="x" x="0" y="0" font-size="7.7" text-anchor="end" fill="#1a1a1a" transform="translate(91.60,259.10) rotate(-45)">VWF<tspan font-size="5.5" dy="-2.7">−/−</tspan></text>
<text class="y" x="0" y="0" font-size="9.0" text-anchor="middle" fill="#1a1a1a" textLength="42.6" lengthAdjust="spacingAndGlyphs" transform="translate(13.30,216.80) rotate(-90)">Lag time (min)</text>
<line x1="42.15" y1="182.85" x2="71.50" y2="182.85" stroke="#3c3c3c" stroke-width="1.05"/>
<line x1="42.15" y1="180.45" x2="42.15" y2="185.25" stroke="#3c3c3c" stroke-width="1.05"/>
<line x1="71.50" y1="180.45" x2="71.50" y2="185.25" stroke="#3c3c3c" stroke-width="1.05"/>
<circle cx="56.83" cy="179.80" r="1.15" fill="#111"/>
<line x1="42.15" y1="190.30" x2="55.60" y2="190.30" stroke="#3c3c3c" stroke-width="1.05"/>
<line x1="42.15" y1="187.90" x2="42.15" y2="192.70" stroke="#3c3c3c" stroke-width="1.05"/>
<line x1="55.60" y1="187.90" x2="55.60" y2="192.70" stroke="#3c3c3c" stroke-width="1.05"/>
<circle cx="45.27" cy="187.20" r="1.15" fill="#111"/>
<circle cx="48.88" cy="187.20" r="1.15" fill="#111"/>
<circle cx="52.48" cy="187.20" r="1.15" fill="#111"/>
<line x1="35.60" y1="210.50" x2="45.40" y2="210.50" stroke="#1a1a1a" stroke-width="1.0"/>
<line x1="40.50" y1="207.50" x2="40.50" y2="213.50" stroke="#1a1a1a" stroke-width="1.0"/>
<line x1="38.20" y1="207.50" x2="42.80" y2="207.50" stroke="#1a1a1a" stroke-width="1.0"/>
<line x1="38.20" y1="213.50" x2="42.80" y2="213.50" stroke="#1a1a1a" stroke-width="1.0"/>
<circle cx="37.20" cy="205.60" r="1.8" fill="#c4620e" stroke="#a85208" stroke-width="0.4"/>
<circle cx="41.60" cy="205.60" r="1.8" fill="#c4620e" stroke="#a85208" stroke-width="0.4"/>
<circle cx="35.60" cy="209.00" r="1.8" fill="#c4620e" stroke="#a85208" stroke-width="0.4"/>
<circle cx="43.00" cy="209.50" r="1.8" fill="#c4620e" stroke="#a85208" stroke-width="0.4"/>
<circle cx="38.50" cy="210.50" r="1.8" fill="#c4620e" stroke="#a85208" stroke-width="0.4"/>
<circle cx="37.00" cy="213.50" r="1.8" fill="#c4620e" stroke="#a85208" stroke-width="0.4"/>
<circle cx="41.50" cy="213.50" r="1.8" fill="#c4620e" stroke="#a85208" stroke-width="0.4"/>
<circle cx="39.50" cy="215.50" r="1.8" fill="#c4620e" stroke="#a85208" stroke-width="0.4"/>
<circle cx="36.80" cy="217.50" r="1.8" fill="#c4620e" stroke="#a85208" stroke-width="0.4"/>
<circle cx="41.20" cy="217.50" r="1.8" fill="#c4620e" stroke="#a85208" stroke-width="0.4"/>
<circle cx="40.10" cy="224.20" r="1.8" fill="#c4620e" stroke="#a85208" stroke-width="0.4"/>
<line x1="50.60" y1="203.50" x2="60.40" y2="203.50" stroke="#1a1a1a" stroke-width="1.0"/>
<line x1="55.50" y1="198.50" x2="55.50" y2="208.50" stroke="#1a1a1a" stroke-width="1.0"/>
<line x1="53.20" y1="198.50" x2="57.80" y2="198.50" stroke="#1a1a1a" stroke-width="1.0"/>
<line x1="53.20" y1="208.50" x2="57.80" y2="208.50" stroke="#1a1a1a" stroke-width="1.0"/>
<circle cx="52.00" cy="197.60" r="1.8" fill="#7f71c6" stroke="#6a5cb0" stroke-width="0.4"/>
<circle cx="57.60" cy="197.00" r="1.8" fill="#7f71c6" stroke="#6a5cb0" stroke-width="0.4"/>
<circle cx="51.40" cy="200.75" r="1.8" fill="#7f71c6" stroke="#6a5cb0" stroke-width="0.4"/>
<circle cx="52.00" cy="203.90" r="1.8" fill="#7f71c6" stroke="#6a5cb0" stroke-width="0.4"/>
<circle cx="58.90" cy="204.50" r="1.8" fill="#7f71c6" stroke="#6a5cb0" stroke-width="0.4"/>
<circle cx="53.25" cy="205.75" r="1.8" fill="#7f71c6" stroke="#6a5cb0" stroke-width="0.4"/>
<circle cx="55.10" cy="206.40" r="1.8" fill="#7f71c6" stroke="#6a5cb0" stroke-width="0.4"/>
<circle cx="57.00" cy="206.40" r="1.8" fill="#7f71c6" stroke="#6a5cb0" stroke-width="0.4"/>
<circle cx="55.10" cy="213.90" r="1.8" fill="#7f71c6" stroke="#6a5cb0" stroke-width="0.4"/>
<line x1="65.60" y1="205.50" x2="75.40" y2="205.50" stroke="#1a1a1a" stroke-width="1.0"/>
<line x1="70.50" y1="200.50" x2="70.50" y2="209.50" stroke="#1a1a1a" stroke-width="1.0"/>
<line x1="68.20" y1="200.50" x2="72.80" y2="200.50" stroke="#1a1a1a" stroke-width="1.0"/>
<line x1="68.20" y1="209.50" x2="72.80" y2="209.50" stroke="#1a1a1a" stroke-width="1.0"/>
<circle cx="70.90" cy="196.50" r="1.8" fill="#16a2e2" stroke="#0e8cc8" stroke-width="0.4"/>
<circle cx="67.50" cy="205.50" r="1.8" fill="#16a2e2" stroke="#0e8cc8" stroke-width="0.4"/>
<circle cx="70.50" cy="206.00" r="1.8" fill="#16a2e2" stroke="#0e8cc8" stroke-width="0.4"/>
<circle cx="73.50" cy="205.50" r="1.8" fill="#16a2e2" stroke="#0e8cc8" stroke-width="0.4"/>
<circle cx="75.00" cy="205.80" r="1.8" fill="#16a2e2" stroke="#0e8cc8" stroke-width="0.4"/>
<circle cx="69.50" cy="207.50" r="1.8" fill="#16a2e2" stroke="#0e8cc8" stroke-width="0.4"/>
<circle cx="72.50" cy="207.80" r="1.8" fill="#16a2e2" stroke="#0e8cc8" stroke-width="0.4"/>
<line x1="81.60" y1="207.50" x2="91.40" y2="207.50" stroke="#1a1a1a" stroke-width="1.0"/>
<line x1="86.50" y1="203.50" x2="86.50" y2="211.50" stroke="#1a1a1a" stroke-width="1.0"/>
<line x1="84.20" y1="203.50" x2="88.80" y2="203.50" stroke="#1a1a1a" stroke-width="1.0"/>
<line x1="84.20" y1="211.50" x2="88.80" y2="211.50" stroke="#1a1a1a" stroke-width="1.0"/>
<path d="M84.40 200.75L86.65 203.00L84.40 205.25L82.15 203.00Z" fill="#334861" stroke="#26384d" stroke-width="0.4" stroke-linejoin="round"/>
<path d="M88.60 200.75L90.85 203.00L88.60 205.25L86.35 203.00Z" fill="#334861" stroke="#26384d" stroke-width="0.4" stroke-linejoin="round"/>
<path d="M86.50 203.35L88.75 205.60L86.50 207.85L84.25 205.60Z" fill="#334861" stroke="#26384d" stroke-width="0.4" stroke-linejoin="round"/>
<path d="M88.60 207.55L90.85 209.80L88.60 212.05L86.35 209.80Z" fill="#334861" stroke="#26384d" stroke-width="0.4" stroke-linejoin="round"/>
<path d="M87.00 208.55L89.25 210.80L87.00 213.05L84.75 210.80Z" fill="#334861" stroke="#26384d" stroke-width="0.4" stroke-linejoin="round"/>
<path d="M83.90 211.15L86.15 213.40L83.90 215.65L81.65 213.40Z" fill="#334861" stroke="#26384d" stroke-width="0.4" stroke-linejoin="round"/>
<path d="M82.80 211.75L85.05 214.00L82.80 216.25L80.55 214.00Z" fill="#334861" stroke="#26384d" stroke-width="0.4" stroke-linejoin="round"/>
<line x1="127.30" y1="183.50" x2="127.30" y2="247.20" stroke="#111" stroke-width="1.5"/>
<line x1="124.30" y1="246.60" x2="127.30" y2="246.60" stroke="#111" stroke-width="1.0"/>
<text class="t" x="121.30" y="249.20" font-size="7.6" text-anchor="end" font-weight="normal" fill="#1a1a1a" >0</text>
<line x1="124.30" y1="234.70" x2="127.30" y2="234.70" stroke="#111" stroke-width="1.0"/>
<text class="t" x="121.30" y="237.30" font-size="7.6" text-anchor="end" font-weight="normal" fill="#1a1a1a" >5</text>
<line x1="124.30" y1="222.80" x2="127.30" y2="222.80" stroke="#111" stroke-width="1.0"/>
<text class="t" x="121.30" y="225.40" font-size="7.6" text-anchor="end" font-weight="normal" fill="#1a1a1a" >10</text>
<line x1="124.30" y1="210.90" x2="127.30" y2="210.90" stroke="#111" stroke-width="1.0"/>
<text class="t" x="121.30" y="213.50" font-size="7.6" text-anchor="end" font-weight="normal" fill="#1a1a1a" >15</text>
<line x1="124.30" y1="199.00" x2="127.30" y2="199.00" stroke="#111" stroke-width="1.0"/>
<text class="t" x="121.30" y="201.60" font-size="7.6" text-anchor="end" font-weight="normal" fill="#1a1a1a" >20</text>
<line x1="124.30" y1="187.10" x2="127.30" y2="187.10" stroke="#111" stroke-width="1.0"/>
<text class="t" x="121.30" y="189.70" font-size="7.6" text-anchor="end" font-weight="normal" fill="#1a1a1a" >25</text>
<line x1="124.30" y1="246.60" x2="187.80" y2="246.60" stroke="#111" stroke-width="1.25"/>
<line x1="137.40" y1="246.60" x2="137.40" y2="249.80" stroke="#111" stroke-width="1.0"/>
<line x1="152.90" y1="246.60" x2="152.90" y2="249.80" stroke="#111" stroke-width="1.0"/>
<line x1="168.40" y1="246.60" x2="168.40" y2="249.80" stroke="#111" stroke-width="1.0"/>
<line x1="183.90" y1="246.60" x2="183.90" y2="249.80" stroke="#111" stroke-width="1.0"/>
<text class="x" x="0" y="0" font-size="7.7" text-anchor="end" fill="#1a1a1a" transform="translate(141.10,257.20) rotate(-45)">C57BL/6J</text>
<text class="x" x="0" y="0" font-size="7.7" text-anchor="end" fill="#1a1a1a" transform="translate(158.30,259.10) rotate(-45)">VWF<tspan font-size="5.5" dy="-2.7">2N/2N</tspan></text>
<text class="x" x="0" y="0" font-size="7.7" text-anchor="end" fill="#1a1a1a" transform="translate(173.80,259.10) rotate(-45)">VWF<tspan font-size="5.5" dy="-2.7">2N/−</tspan></text>
<text class="x" x="0" y="0" font-size="7.7" text-anchor="end" fill="#1a1a1a" transform="translate(189.30,259.10) rotate(-45)">VWF<tspan font-size="5.5" dy="-2.7">−/−</tspan></text>
<text class="y" x="0" y="0" font-size="9.0" text-anchor="middle" fill="#1a1a1a" textLength="45.6" lengthAdjust="spacingAndGlyphs" transform="translate(108.80,216.15) rotate(-90)">Peak time (min)</text>
<line x1="139.60" y1="189.20" x2="153.10" y2="189.20" stroke="#3c3c3c" stroke-width="1.05"/>
<line x1="139.60" y1="186.80" x2="139.60" y2="191.60" stroke="#3c3c3c" stroke-width="1.05"/>
<line x1="153.10" y1="186.80" x2="153.10" y2="191.60" stroke="#3c3c3c" stroke-width="1.05"/>
<circle cx="144.55" cy="185.50" r="1.15" fill="#111"/>
<circle cx="148.15" cy="185.50" r="1.15" fill="#111"/>
<line x1="155.20" y1="189.20" x2="185.30" y2="189.20" stroke="#3c3c3c" stroke-width="1.05"/>
<line x1="155.20" y1="186.80" x2="155.20" y2="191.60" stroke="#3c3c3c" stroke-width="1.05"/>
<line x1="185.30" y1="186.80" x2="185.30" y2="191.60" stroke="#3c3c3c" stroke-width="1.05"/>
<circle cx="170.25" cy="186.00" r="1.15" fill="#111"/>
<line x1="132.60" y1="224.50" x2="142.40" y2="224.50" stroke="#1a1a1a" stroke-width="1.0"/>
<line x1="137.50" y1="221.50" x2="137.50" y2="227.50" stroke="#1a1a1a" stroke-width="1.0"/>
<line x1="135.20" y1="221.50" x2="139.80" y2="221.50" stroke="#1a1a1a" stroke-width="1.0"/>
<line x1="135.20" y1="227.50" x2="139.80" y2="227.50" stroke="#1a1a1a" stroke-width="1.0"/>
<circle cx="139.00" cy="216.30" r="1.8" fill="#c4620e" stroke="#a85208" stroke-width="0.4"/>
<circle cx="134.50" cy="220.50" r="1.8" fill="#c4620e" stroke="#a85208" stroke-width="0.4"/>
<circle cx="137.00" cy="220.00" r="1.8" fill="#c4620e" stroke="#a85208" stroke-width="0.4"/>
<circle cx="140.00" cy="221.00" r="1.8" fill="#c4620e" stroke="#a85208" stroke-width="0.4"/>
<circle cx="136.00" cy="224.00" r="1.8" fill="#c4620e" stroke="#a85208" stroke-width="0.4"/>
<circle cx="139.00" cy="224.50" r="1.8" fill="#c4620e" stroke="#a85208" stroke-width="0.4"/>
<circle cx="137.50" cy="227.00" r="1.8" fill="#c4620e" stroke="#a85208" stroke-width="0.4"/>
<circle cx="136.50" cy="229.50" r="1.8" fill="#c4620e" stroke="#a85208" stroke-width="0.4"/>
<circle cx="138.50" cy="230.30" r="1.8" fill="#c4620e" stroke="#a85208" stroke-width="0.4"/>
<line x1="148.60" y1="214.50" x2="158.40" y2="214.50" stroke="#1a1a1a" stroke-width="1.0"/>
<line x1="153.50" y1="204.50" x2="153.50" y2="225.50" stroke="#1a1a1a" stroke-width="1.0"/>
<line x1="151.20" y1="204.50" x2="155.80" y2="204.50" stroke="#1a1a1a" stroke-width="1.0"/>
<line x1="151.20" y1="225.50" x2="155.80" y2="225.50" stroke="#1a1a1a" stroke-width="1.0"/>
<circle cx="155.30" cy="195.10" r="1.8" fill="#7f71c6" stroke="#6a5cb0" stroke-width="0.4"/>
<circle cx="150.10" cy="199.60" r="1.8" fill="#7f71c6" stroke="#6a5cb0" stroke-width="0.4"/>
<circle cx="150.10" cy="211.40" r="1.8" fill="#7f71c6" stroke="#6a5cb0" stroke-width="0.4"/>
<circle cx="155.70" cy="216.30" r="1.8" fill="#7f71c6" stroke="#6a5cb0" stroke-width="0.4"/>
<circle cx="150.50" cy="220.00" r="1.8" fill="#7f71c6" stroke="#6a5cb0" stroke-width="0.4"/>
<circle cx="153.50" cy="220.00" r="1.8" fill="#7f71c6" stroke="#6a5cb0" stroke-width="0.4"/>
<circle cx="156.00" cy="220.50" r="1.8" fill="#7f71c6" stroke="#6a5cb0" stroke-width="0.4"/>
<circle cx="151.50" cy="223.50" r="1.8" fill="#7f71c6" stroke="#6a5cb0" stroke-width="0.4"/>
<circle cx="154.50" cy="223.50" r="1.8" fill="#7f71c6" stroke="#6a5cb0" stroke-width="0.4"/>
<circle cx="153.00" cy="226.00" r="1.8" fill="#7f71c6" stroke="#6a5cb0" stroke-width="0.4"/>
<line x1="163.60" y1="221.50" x2="173.40" y2="221.50" stroke="#1a1a1a" stroke-width="1.0"/>
<line x1="168.50" y1="218.50" x2="168.50" y2="223.50" stroke="#1a1a1a" stroke-width="1.0"/>
<line x1="166.20" y1="218.50" x2="170.80" y2="218.50" stroke="#1a1a1a" stroke-width="1.0"/>
<line x1="166.20" y1="223.50" x2="170.80" y2="223.50" stroke="#1a1a1a" stroke-width="1.0"/>
<circle cx="168.30" cy="216.20" r="1.8" fill="#16a2e2" stroke="#0e8cc8" stroke-width="0.4"/>
<circle cx="164.40" cy="221.60" r="1.8" fill="#16a2e2" stroke="#0e8cc8" stroke-width="0.4"/>
<circle cx="172.20" cy="221.10" r="1.8" fill="#16a2e2" stroke="#0e8cc8" stroke-width="0.4"/>
<circle cx="165.80" cy="223.00" r="1.8" fill="#16a2e2" stroke="#0e8cc8" stroke-width="0.4"/>
<circle cx="169.70" cy="223.50" r="1.8" fill="#16a2e2" stroke="#0e8cc8" stroke-width="0.4"/>
<circle cx="166.80" cy="224.50" r="1.8" fill="#16a2e2" stroke="#0e8cc8" stroke-width="0.4"/>
<line x1="179.60" y1="224.50" x2="189.40" y2="224.50" stroke="#1a1a1a" stroke-width="1.0"/>
<line x1="184.50" y1="221.50" x2="184.50" y2="227.50" stroke="#1a1a1a" stroke-width="1.0"/>
<line x1="182.20" y1="221.50" x2="186.80" y2="221.50" stroke="#1a1a1a" stroke-width="1.0"/>
<line x1="182.20" y1="227.50" x2="186.80" y2="227.50" stroke="#1a1a1a" stroke-width="1.0"/>
<path d="M181.90 218.35L184.15 220.60L181.90 222.85L179.65 220.60Z" fill="#334861" stroke="#26384d" stroke-width="0.4" stroke-linejoin="round"/>
<path d="M184.80 219.75L187.05 222.00L184.80 224.25L182.55 222.00Z" fill="#334861" stroke="#26384d" stroke-width="0.4" stroke-linejoin="round"/>
<path d="M182.90 222.25L185.15 224.50L182.90 226.75L180.65 224.50Z" fill="#334861" stroke="#26384d" stroke-width="0.4" stroke-linejoin="round"/>
<path d="M185.50 221.75L187.75 224.00L185.50 226.25L183.25 224.00Z" fill="#334861" stroke="#26384d" stroke-width="0.4" stroke-linejoin="round"/>
<path d="M183.80 225.15L186.05 227.40L183.80 229.65L181.55 227.40Z" fill="#334861" stroke="#26384d" stroke-width="0.4" stroke-linejoin="round"/>
<path d="M183.30 226.65L185.55 228.90L183.30 231.15L181.05 228.90Z" fill="#334861" stroke="#26384d" stroke-width="0.4" stroke-linejoin="round"/>
<line x1="227.70" y1="183.50" x2="227.70" y2="247.20" stroke="#111" stroke-width="1.5"/>
<line x1="224.70" y1="246.60" x2="227.70" y2="246.60" stroke="#111" stroke-width="1.0"/>
<text class="t" x="221.70" y="249.20" font-size="7.6" text-anchor="end" font-weight="normal" fill="#1a1a1a" >0</text>
<line x1="224.70" y1="226.77" x2="227.70" y2="226.77" stroke="#111" stroke-width="1.0"/>
<text class="t" x="221.70" y="229.37" font-size="7.6" text-anchor="end" font-weight="normal" fill="#1a1a1a" >100</text>
<line x1="224.70" y1="206.93" x2="227.70" y2="206.93" stroke="#111" stroke-width="1.0"/>
<text class="t" x="221.70" y="209.53" font-size="7.6" text-anchor="end" font-weight="normal" fill="#1a1a1a" >200</text>
<line x1="224.70" y1="187.10" x2="227.70" y2="187.10" stroke="#111" stroke-width="1.0"/>
<text class="t" x="221.70" y="189.70" font-size="7.6" text-anchor="end" font-weight="normal" fill="#1a1a1a" >300</text>
<line x1="224.70" y1="246.60" x2="288.40" y2="246.60" stroke="#111" stroke-width="1.25"/>
<line x1="237.90" y1="246.60" x2="237.90" y2="249.80" stroke="#111" stroke-width="1.0"/>
<line x1="253.40" y1="246.60" x2="253.40" y2="249.80" stroke="#111" stroke-width="1.0"/>
<line x1="268.90" y1="246.60" x2="268.90" y2="249.80" stroke="#111" stroke-width="1.0"/>
<line x1="284.40" y1="246.60" x2="284.40" y2="249.80" stroke="#111" stroke-width="1.0"/>
<text class="x" x="0" y="0" font-size="7.7" text-anchor="end" fill="#1a1a1a" transform="translate(241.60,257.20) rotate(-45)">C57BL/6J</text>
<text class="x" x="0" y="0" font-size="7.7" text-anchor="end" fill="#1a1a1a" transform="translate(258.80,259.10) rotate(-45)">VWF<tspan font-size="5.5" dy="-2.7">2N/2N</tspan></text>
<text class="x" x="0" y="0" font-size="7.7" text-anchor="end" fill="#1a1a1a" transform="translate(274.30,259.10) rotate(-45)">VWF<tspan font-size="5.5" dy="-2.7">2N/−</tspan></text>
<text class="x" x="0" y="0" font-size="7.7" text-anchor="end" fill="#1a1a1a" transform="translate(289.80,259.10) rotate(-45)">VWF<tspan font-size="5.5" dy="-2.7">−/−</tspan></text>
<text class="y" x="0" y="0" font-size="9.0" text-anchor="middle" fill="#1a1a1a" textLength="56.6" lengthAdjust="spacingAndGlyphs" transform="translate(203.50,216.65) rotate(-90)">Peak thrombin (nM)</text>
<line x1="238.60" y1="189.20" x2="253.40" y2="189.20" stroke="#3c3c3c" stroke-width="1.05"/>
<line x1="238.60" y1="186.80" x2="238.60" y2="191.60" stroke="#3c3c3c" stroke-width="1.05"/>
<line x1="253.40" y1="186.80" x2="253.40" y2="191.60" stroke="#3c3c3c" stroke-width="1.05"/>
<circle cx="244.20" cy="185.60" r="1.15" fill="#111"/>
<circle cx="247.80" cy="185.60" r="1.15" fill="#111"/>
<line x1="233.60" y1="211.50" x2="243.40" y2="211.50" stroke="#1a1a1a" stroke-width="1.0"/>
<line x1="238.50" y1="203.50" x2="238.50" y2="218.50" stroke="#1a1a1a" stroke-width="1.0"/>
<line x1="236.20" y1="203.50" x2="240.80" y2="203.50" stroke="#1a1a1a" stroke-width="1.0"/>
<line x1="236.20" y1="218.50" x2="240.80" y2="218.50" stroke="#1a1a1a" stroke-width="1.0"/>
<circle cx="235.60" cy="199.20" r="1.8" fill="#c4620e" stroke="#a85208" stroke-width="0.4"/>
<circle cx="240.40" cy="197.60" r="1.8" fill="#c4620e" stroke="#a85208" stroke-width="0.4"/>
<circle cx="238.80" cy="208.80" r="1.8" fill="#c4620e" stroke="#a85208" stroke-width="0.4"/>
<circle cx="236.40" cy="209.90" r="1.8" fill="#c4620e" stroke="#a85208" stroke-width="0.4"/>
<circle cx="235.60" cy="216.30" r="1.8" fill="#c4620e" stroke="#a85208" stroke-width="0.4"/>
<circle cx="238.80" cy="216.80" r="1.8" fill="#c4620e" stroke="#a85208" stroke-width="0.4"/>
<circle cx="237.20" cy="219.20" r="1.8" fill="#c4620e" stroke="#a85208" stroke-width="0.4"/>
<circle cx="238.00" cy="221.60" r="1.8" fill="#c4620e" stroke="#a85208" stroke-width="0.4"/>
<line x1="248.60" y1="220.50" x2="258.40" y2="220.50" stroke="#1a1a1a" stroke-width="1.0"/>
<line x1="253.50" y1="212.50" x2="253.50" y2="230.50" stroke="#1a1a1a" stroke-width="1.0"/>
<line x1="251.20" y1="212.50" x2="255.80" y2="212.50" stroke="#1a1a1a" stroke-width="1.0"/>
<line x1="251.20" y1="230.50" x2="255.80" y2="230.50" stroke="#1a1a1a" stroke-width="1.0"/>
<circle cx="253.70" cy="208.00" r="1.8" fill="#7f71c6" stroke="#6a5cb0" stroke-width="0.4"/>
<circle cx="256.90" cy="212.80" r="1.8" fill="#7f71c6" stroke="#6a5cb0" stroke-width="0.4"/>
<circle cx="250.00" cy="215.70" r="1.8" fill="#7f71c6" stroke="#6a5cb0" stroke-width="0.4"/>
<circle cx="253.70" cy="216.00" r="1.8" fill="#7f71c6" stroke="#6a5cb0" stroke-width="0.4"/>
<circle cx="253.70" cy="224.80" r="1.8" fill="#7f71c6" stroke="#6a5cb0" stroke-width="0.4"/>
<circle cx="251.60" cy="228.50" r="1.8" fill="#7f71c6" stroke="#6a5cb0" stroke-width="0.4"/>
<circle cx="255.60" cy="231.20" r="1.8" fill="#7f71c6" stroke="#6a5cb0" stroke-width="0.4"/>
<circle cx="253.70" cy="233.90" r="1.8" fill="#7f71c6" stroke="#6a5cb0" stroke-width="0.4"/>
<line x1="263.60" y1="218.50" x2="273.40" y2="218.50" stroke="#1a1a1a" stroke-width="1.0"/>
<line x1="268.50" y1="216.50" x2="268.50" y2="220.50" stroke="#1a1a1a" stroke-width="1.0"/>
<line x1="266.20" y1="216.50" x2="270.80" y2="216.50" stroke="#1a1a1a" stroke-width="1.0"/>
<line x1="266.20" y1="220.50" x2="270.80" y2="220.50" stroke="#1a1a1a" stroke-width="1.0"/>
<circle cx="268.80" cy="214.60" r="1.8" fill="#16a2e2" stroke="#0e8cc8" stroke-width="0.4"/>
<circle cx="272.20" cy="217.60" r="1.8" fill="#16a2e2" stroke="#0e8cc8" stroke-width="0.4"/>
<circle cx="265.40" cy="219.00" r="1.8" fill="#16a2e2" stroke="#0e8cc8" stroke-width="0.4"/>
<circle cx="269.70" cy="220.00" r="1.8" fill="#16a2e2" stroke="#0e8cc8" stroke-width="0.4"/>
<circle cx="267.30" cy="222.00" r="1.8" fill="#16a2e2" stroke="#0e8cc8" stroke-width="0.4"/>
<line x1="279.60" y1="214.50" x2="289.40" y2="214.50" stroke="#1a1a1a" stroke-width="1.0"/>
<line x1="284.50" y1="212.50" x2="284.50" y2="216.50" stroke="#1a1a1a" stroke-width="1.0"/>
<line x1="282.20" y1="212.50" x2="286.80" y2="212.50" stroke="#1a1a1a" stroke-width="1.0"/>
<line x1="282.20" y1="216.50" x2="286.80" y2="216.50" stroke="#1a1a1a" stroke-width="1.0"/>
<path d="M281.90 209.45L284.15 211.70L281.90 213.95L279.65 211.70Z" fill="#334861" stroke="#26384d" stroke-width="0.4" stroke-linejoin="round"/>
<path d="M286.80 209.95L289.05 212.20L286.80 214.45L284.55 212.20Z" fill="#334861" stroke="#26384d" stroke-width="0.4" stroke-linejoin="round"/>
<path d="M283.80 212.35L286.05 214.60L283.80 216.85L281.55 214.60Z" fill="#334861" stroke="#26384d" stroke-width="0.4" stroke-linejoin="round"/>
<path d="M285.80 212.35L288.05 214.60L285.80 216.85L283.55 214.60Z" fill="#334861" stroke="#26384d" stroke-width="0.4" stroke-linejoin="round"/>
<path d="M282.90 213.85L285.15 216.10L282.90 218.35L280.65 216.10Z" fill="#334861" stroke="#26384d" stroke-width="0.4" stroke-linejoin="round"/>
<path d="M284.30 215.35L286.55 217.60L284.30 219.85L282.05 217.60Z" fill="#334861" stroke="#26384d" stroke-width="0.4" stroke-linejoin="round"/>
<line x1="343.10" y1="183.50" x2="343.10" y2="247.20" stroke="#111" stroke-width="1.5"/>
<line x1="340.10" y1="246.60" x2="343.10" y2="246.60" stroke="#111" stroke-width="1.0"/>
<text class="t" x="337.10" y="249.20" font-size="7.6" text-anchor="end" font-weight="normal" fill="#1a1a1a" >0</text>
<line x1="340.10" y1="236.68" x2="343.10" y2="236.68" stroke="#111" stroke-width="1.0"/>
<text class="t" x="337.10" y="239.28" font-size="7.6" text-anchor="end" font-weight="normal" fill="#1a1a1a" >300</text>
<line x1="340.10" y1="226.77" x2="343.10" y2="226.77" stroke="#111" stroke-width="1.0"/>
<text class="t" x="337.10" y="229.37" font-size="7.6" text-anchor="end" font-weight="normal" fill="#1a1a1a" >600</text>
<line x1="340.10" y1="216.85" x2="343.10" y2="216.85" stroke="#111" stroke-width="1.0"/>
<text class="t" x="337.10" y="219.45" font-size="7.6" text-anchor="end" font-weight="normal" fill="#1a1a1a" >900</text>
<line x1="340.10" y1="206.93" x2="343.10" y2="206.93" stroke="#111" stroke-width="1.0"/>
<text class="t" x="337.10" y="209.53" font-size="7.6" text-anchor="end" font-weight="normal" fill="#1a1a1a" >1200</text>
<line x1="340.10" y1="197.02" x2="343.10" y2="197.02" stroke="#111" stroke-width="1.0"/>
<text class="t" x="337.10" y="199.62" font-size="7.6" text-anchor="end" font-weight="normal" fill="#1a1a1a" >1500</text>
<line x1="340.10" y1="187.10" x2="343.10" y2="187.10" stroke="#111" stroke-width="1.0"/>
<text class="t" x="337.10" y="189.70" font-size="7.6" text-anchor="end" font-weight="normal" fill="#1a1a1a" >1800</text>
<line x1="340.10" y1="246.60" x2="403.70" y2="246.60" stroke="#111" stroke-width="1.25"/>
<line x1="353.10" y1="246.60" x2="353.10" y2="249.80" stroke="#111" stroke-width="1.0"/>
<line x1="368.50" y1="246.60" x2="368.50" y2="249.80" stroke="#111" stroke-width="1.0"/>
<line x1="383.90" y1="246.60" x2="383.90" y2="249.80" stroke="#111" stroke-width="1.0"/>
<line x1="399.40" y1="246.60" x2="399.40" y2="249.80" stroke="#111" stroke-width="1.0"/>
<text class="x" x="0" y="0" font-size="7.7" text-anchor="end" fill="#1a1a1a" transform="translate(356.80,257.20) rotate(-45)">C57BL/6J</text>
<text class="x" x="0" y="0" font-size="7.7" text-anchor="end" fill="#1a1a1a" transform="translate(373.90,259.10) rotate(-45)">VWF<tspan font-size="5.5" dy="-2.7">2N/2N</tspan></text>
<text class="x" x="0" y="0" font-size="7.7" text-anchor="end" fill="#1a1a1a" transform="translate(389.30,259.10) rotate(-45)">VWF<tspan font-size="5.5" dy="-2.7">2N/−</tspan></text>
<text class="x" x="0" y="0" font-size="7.7" text-anchor="end" fill="#1a1a1a" transform="translate(404.80,259.10) rotate(-45)">VWF<tspan font-size="5.5" dy="-2.7">−/−</tspan></text>
<text class="y" x="0" y="0" font-size="8.4" text-anchor="middle" fill="#1a1a1a" textLength="60.3" lengthAdjust="spacingAndGlyphs" transform="translate(304.00,216.40) rotate(-90)">Endogenous thrombin</text>
<text class="y" x="0" y="0" font-size="8.4" text-anchor="middle" fill="#1a1a1a" textLength="39.7" lengthAdjust="spacingAndGlyphs" transform="translate(313.90,217.00) rotate(-90)">potential (nM)</text>
<line x1="353.80" y1="171.50" x2="402.50" y2="171.50" stroke="#3c3c3c" stroke-width="1.05"/>
<line x1="353.80" y1="169.10" x2="353.80" y2="173.90" stroke="#3c3c3c" stroke-width="1.05"/>
<line x1="402.50" y1="169.10" x2="402.50" y2="173.90" stroke="#3c3c3c" stroke-width="1.05"/>
<circle cx="378.15" cy="168.50" r="1.15" fill="#111"/>
<line x1="353.80" y1="178.10" x2="383.40" y2="178.10" stroke="#3c3c3c" stroke-width="1.05"/>
<line x1="353.80" y1="175.70" x2="353.80" y2="180.50" stroke="#3c3c3c" stroke-width="1.05"/>
<line x1="383.40" y1="175.70" x2="383.40" y2="180.50" stroke="#3c3c3c" stroke-width="1.05"/>
<circle cx="368.60" cy="175.10" r="1.15" fill="#111"/>
<line x1="353.80" y1="184.60" x2="369.60" y2="184.60" stroke="#3c3c3c" stroke-width="1.05"/>
<line x1="353.80" y1="182.20" x2="353.80" y2="187.00" stroke="#3c3c3c" stroke-width="1.05"/>
<line x1="369.60" y1="182.20" x2="369.60" y2="187.00" stroke="#3c3c3c" stroke-width="1.05"/>
<circle cx="361.70" cy="181.90" r="1.15" fill="#111"/>
<line x1="348.60" y1="197.50" x2="358.40" y2="197.50" stroke="#1a1a1a" stroke-width="1.0"/>
<line x1="353.50" y1="194.50" x2="353.50" y2="201.50" stroke="#1a1a1a" stroke-width="1.0"/>
<line x1="351.20" y1="194.50" x2="355.80" y2="194.50" stroke="#1a1a1a" stroke-width="1.0"/>
<line x1="351.20" y1="201.50" x2="355.80" y2="201.50" stroke="#1a1a1a" stroke-width="1.0"/>
<circle cx="351.30" cy="191.20" r="1.8" fill="#c4620e" stroke="#a85208" stroke-width="0.4"/>
<circle cx="355.50" cy="191.20" r="1.8" fill="#c4620e" stroke="#a85208" stroke-width="0.4"/>
<circle cx="353.40" cy="193.80" r="1.8" fill="#c4620e" stroke="#a85208" stroke-width="0.4"/>
<circle cx="352.30" cy="196.40" r="1.8" fill="#c4620e" stroke="#a85208" stroke-width="0.4"/>
<circle cx="353.90" cy="198.00" r="1.8" fill="#c4620e" stroke="#a85208" stroke-width="0.4"/>
<circle cx="355.50" cy="199.50" r="1.8" fill="#c4620e" stroke="#a85208" stroke-width="0.4"/>
<circle cx="352.90" cy="200.60" r="1.8" fill="#c4620e" stroke="#a85208" stroke-width="0.4"/>
<circle cx="353.90" cy="201.60" r="1.8" fill="#c4620e" stroke="#a85208" stroke-width="0.4"/>
<circle cx="353.20" cy="204.75" r="1.8" fill="#c4620e" stroke="#a85208" stroke-width="0.4"/>
<line x1="364.60" y1="201.50" x2="374.40" y2="201.50" stroke="#1a1a1a" stroke-width="1.0"/>
<line x1="369.50" y1="196.50" x2="369.50" y2="207.50" stroke="#1a1a1a" stroke-width="1.0"/>
<line x1="367.20" y1="196.50" x2="371.80" y2="196.50" stroke="#1a1a1a" stroke-width="1.0"/>
<line x1="367.20" y1="207.50" x2="371.80" y2="207.50" stroke="#1a1a1a" stroke-width="1.0"/>
<circle cx="366.90" cy="193.80" r="1.8" fill="#7f71c6" stroke="#6a5cb0" stroke-width="0.4"/>
<circle cx="370.00" cy="196.40" r="1.8" fill="#7f71c6" stroke="#6a5cb0" stroke-width="0.4"/>
<circle cx="371.60" cy="197.50" r="1.8" fill="#7f71c6" stroke="#6a5cb0" stroke-width="0.4"/>
<circle cx="368.00" cy="198.50" r="1.8" fill="#7f71c6" stroke="#6a5cb0" stroke-width="0.4"/>
<circle cx="369.50" cy="200.60" r="1.8" fill="#7f71c6" stroke="#6a5cb0" stroke-width="0.4"/>
<circle cx="366.90" cy="204.75" r="1.8" fill="#7f71c6" stroke="#6a5cb0" stroke-width="0.4"/>
<circle cx="368.50" cy="206.80" r="1.8" fill="#7f71c6" stroke="#6a5cb0" stroke-width="0.4"/>
<circle cx="369.50" cy="207.40" r="1.8" fill="#7f71c6" stroke="#6a5cb0" stroke-width="0.4"/>
<circle cx="368.50" cy="213.90" r="1.8" fill="#7f71c6" stroke="#6a5cb0" stroke-width="0.4"/>
<line x1="379.60" y1="203.50" x2="389.40" y2="203.50" stroke="#1a1a1a" stroke-width="1.0"/>
<line x1="384.50" y1="201.50" x2="384.50" y2="205.50" stroke="#1a1a1a" stroke-width="1.0"/>
<line x1="382.20" y1="201.50" x2="386.80" y2="201.50" stroke="#1a1a1a" stroke-width="1.0"/>
<line x1="382.20" y1="205.50" x2="386.80" y2="205.50" stroke="#1a1a1a" stroke-width="1.0"/>
<circle cx="381.80" cy="199.20" r="1.8" fill="#16a2e2" stroke="#0e8cc8" stroke-width="0.4"/>
<circle cx="386.00" cy="202.50" r="1.8" fill="#16a2e2" stroke="#0e8cc8" stroke-width="0.4"/>
<circle cx="383.90" cy="203.30" r="1.8" fill="#16a2e2" stroke="#0e8cc8" stroke-width="0.4"/>
<circle cx="383.10" cy="204.20" r="1.8" fill="#16a2e2" stroke="#0e8cc8" stroke-width="0.4"/>
<circle cx="384.75" cy="205.40" r="1.8" fill="#16a2e2" stroke="#0e8cc8" stroke-width="0.4"/>
<line x1="394.60" y1="202.50" x2="404.40" y2="202.50" stroke="#1a1a1a" stroke-width="1.0"/>
<line x1="399.50" y1="199.50" x2="399.50" y2="206.50" stroke="#1a1a1a" stroke-width="1.0"/>
<line x1="397.20" y1="199.50" x2="401.80" y2="199.50" stroke="#1a1a1a" stroke-width="1.0"/>
<line x1="397.20" y1="206.50" x2="401.80" y2="206.50" stroke="#1a1a1a" stroke-width="1.0"/>
<path d="M396.80 195.25L399.05 197.50L396.80 199.75L394.55 197.50Z" fill="#334861" stroke="#26384d" stroke-width="0.4" stroke-linejoin="round"/>
<path d="M402.25 196.95L404.50 199.20L402.25 201.45L400.00 199.20Z" fill="#334861" stroke="#26384d" stroke-width="0.4" stroke-linejoin="round"/>
<path d="M398.10 200.25L400.35 202.50L398.10 204.75L395.85 202.50Z" fill="#334861" stroke="#26384d" stroke-width="0.4" stroke-linejoin="round"/>
<path d="M399.30 202.35L401.55 204.60L399.30 206.85L397.05 204.60Z" fill="#334861" stroke="#26384d" stroke-width="0.4" stroke-linejoin="round"/>
<path d="M401.00 202.75L403.25 205.00L401.00 207.25L398.75 205.00Z" fill="#334861" stroke="#26384d" stroke-width="0.4" stroke-linejoin="round"/>
<path d="M398.50 204.45L400.75 206.70L398.50 208.95L396.25 206.70Z" fill="#334861" stroke="#26384d" stroke-width="0.4" stroke-linejoin="round"/>
<path d="M400.20 204.00L402.45 206.25L400.20 208.50L397.95 206.25Z" fill="#334861" stroke="#26384d" stroke-width="0.4" stroke-linejoin="round"/>
<line x1="451.30" y1="183.50" x2="451.30" y2="247.20" stroke="#111" stroke-width="1.5"/>
<line x1="448.30" y1="246.60" x2="451.30" y2="246.60" stroke="#111" stroke-width="1.0"/>
<text class="t" x="445.30" y="249.20" font-size="7.6" text-anchor="end" font-weight="normal" fill="#1a1a1a" >0</text>
<line x1="448.30" y1="239.16" x2="451.30" y2="239.16" stroke="#111" stroke-width="1.0"/>
<text class="t" x="445.30" y="241.76" font-size="7.6" text-anchor="end" font-weight="normal" fill="#1a1a1a" >8</text>
<line x1="448.30" y1="231.72" x2="451.30" y2="231.72" stroke="#111" stroke-width="1.0"/>
<text class="t" x="445.30" y="234.32" font-size="7.6" text-anchor="end" font-weight="normal" fill="#1a1a1a" >16</text>
<line x1="448.30" y1="224.29" x2="451.30" y2="224.29" stroke="#111" stroke-width="1.0"/>
<text class="t" x="445.30" y="226.89" font-size="7.6" text-anchor="end" font-weight="normal" fill="#1a1a1a" >24</text>
<line x1="448.30" y1="216.85" x2="451.30" y2="216.85" stroke="#111" stroke-width="1.0"/>
<text class="t" x="445.30" y="219.45" font-size="7.6" text-anchor="end" font-weight="normal" fill="#1a1a1a" >32</text>
<line x1="448.30" y1="209.41" x2="451.30" y2="209.41" stroke="#111" stroke-width="1.0"/>
<text class="t" x="445.30" y="212.01" font-size="7.6" text-anchor="end" font-weight="normal" fill="#1a1a1a" >40</text>
<line x1="448.30" y1="201.97" x2="451.30" y2="201.97" stroke="#111" stroke-width="1.0"/>
<text class="t" x="445.30" y="204.57" font-size="7.6" text-anchor="end" font-weight="normal" fill="#1a1a1a" >48</text>
<line x1="448.30" y1="194.54" x2="451.30" y2="194.54" stroke="#111" stroke-width="1.0"/>
<text class="t" x="445.30" y="197.14" font-size="7.6" text-anchor="end" font-weight="normal" fill="#1a1a1a" >56</text>
<line x1="448.30" y1="187.10" x2="451.30" y2="187.10" stroke="#111" stroke-width="1.0"/>
<text class="t" x="445.30" y="189.70" font-size="7.6" text-anchor="end" font-weight="normal" fill="#1a1a1a" >64</text>
<line x1="448.30" y1="246.60" x2="512.20" y2="246.60" stroke="#111" stroke-width="1.25"/>
<line x1="461.40" y1="246.60" x2="461.40" y2="249.80" stroke="#111" stroke-width="1.0"/>
<line x1="476.90" y1="246.60" x2="476.90" y2="249.80" stroke="#111" stroke-width="1.0"/>
<line x1="492.40" y1="246.60" x2="492.40" y2="249.80" stroke="#111" stroke-width="1.0"/>
<line x1="507.90" y1="246.60" x2="507.90" y2="249.80" stroke="#111" stroke-width="1.0"/>
<text class="x" x="0" y="0" font-size="7.7" text-anchor="end" fill="#1a1a1a" transform="translate(465.10,257.20) rotate(-45)">C57BL/6J</text>
<text class="x" x="0" y="0" font-size="7.7" text-anchor="end" fill="#1a1a1a" transform="translate(482.30,259.10) rotate(-45)">VWF<tspan font-size="5.5" dy="-2.7">2N/2N</tspan></text>
<text class="x" x="0" y="0" font-size="7.7" text-anchor="end" fill="#1a1a1a" transform="translate(497.80,259.10) rotate(-45)">VWF<tspan font-size="5.5" dy="-2.7">2N/−</tspan></text>
<text class="x" x="0" y="0" font-size="7.7" text-anchor="end" fill="#1a1a1a" transform="translate(513.30,259.10) rotate(-45)">VWF<tspan font-size="5.5" dy="-2.7">−/−</tspan></text>
<text class="y" x="0" y="0" font-size="8.4" text-anchor="middle" fill="#1a1a1a" textLength="57.9" lengthAdjust="spacingAndGlyphs" transform="translate(420.90,216.50) rotate(-90)">Thrombin generation</text>
<text class="y" x="0" y="0" font-size="8.4" text-anchor="middle" fill="#1a1a1a" textLength="40.7" lengthAdjust="spacingAndGlyphs" transform="translate(430.60,217.10) rotate(-90)">rate (nM/min)</text>
<line x1="462.40" y1="185.40" x2="475.90" y2="185.40" stroke="#3c3c3c" stroke-width="1.05"/>
<line x1="462.40" y1="183.00" x2="462.40" y2="187.80" stroke="#3c3c3c" stroke-width="1.05"/>
<line x1="475.90" y1="183.00" x2="475.90" y2="187.80" stroke="#3c3c3c" stroke-width="1.05"/>
<circle cx="469.15" cy="181.80" r="1.15" fill="#111"/>
<line x1="478.60" y1="185.40" x2="508.40" y2="185.40" stroke="#3c3c3c" stroke-width="1.05"/>
<line x1="478.60" y1="183.00" x2="478.60" y2="187.80" stroke="#3c3c3c" stroke-width="1.05"/>
<line x1="508.40" y1="183.00" x2="508.40" y2="187.80" stroke="#3c3c3c" stroke-width="1.05"/>
<circle cx="493.50" cy="182.30" r="1.15" fill="#111"/>
<line x1="456.60" y1="210.50" x2="466.40" y2="210.50" stroke="#1a1a1a" stroke-width="1.0"/>
<line x1="461.50" y1="198.50" x2="461.50" y2="223.50" stroke="#1a1a1a" stroke-width="1.0"/>
<line x1="459.20" y1="198.50" x2="463.80" y2="198.50" stroke="#1a1a1a" stroke-width="1.0"/>
<line x1="459.20" y1="223.50" x2="463.80" y2="223.50" stroke="#1a1a1a" stroke-width="1.0"/>
<circle cx="464.10" cy="191.20" r="1.8" fill="#c4620e" stroke="#a85208" stroke-width="0.4"/>
<circle cx="456.20" cy="194.30" r="1.8" fill="#c4620e" stroke="#a85208" stroke-width="0.4"/>
<circle cx="459.30" cy="199.50" r="1.8" fill="#c4620e" stroke="#a85208" stroke-width="0.4"/>
<circle cx="464.10" cy="204.30" r="1.8" fill="#c4620e" stroke="#a85208" stroke-width="0.4"/>
<circle cx="462.00" cy="212.70" r="1.8" fill="#c4620e" stroke="#a85208" stroke-width="0.4"/>
<circle cx="459.30" cy="218.90" r="1.8" fill="#c4620e" stroke="#a85208" stroke-width="0.4"/>
<circle cx="461.40" cy="219.75" r="1.8" fill="#c4620e" stroke="#a85208" stroke-width="0.4"/>
<circle cx="464.10" cy="223.50" r="1.8" fill="#c4620e" stroke="#a85208" stroke-width="0.4"/>
<circle cx="458.70" cy="227.25" r="1.8" fill="#c4620e" stroke="#a85208" stroke-width="0.4"/>
<line x1="472.60" y1="223.50" x2="482.40" y2="223.50" stroke="#1a1a1a" stroke-width="1.0"/>
<line x1="477.50" y1="210.50" x2="477.50" y2="238.50" stroke="#1a1a1a" stroke-width="1.0"/>
<line x1="475.20" y1="210.50" x2="479.80" y2="210.50" stroke="#1a1a1a" stroke-width="1.0"/>
<line x1="475.20" y1="238.50" x2="479.80" y2="238.50" stroke="#1a1a1a" stroke-width="1.0"/>
<circle cx="477.00" cy="198.90" r="1.8" fill="#7f71c6" stroke="#6a5cb0" stroke-width="0.4"/>
<circle cx="473.90" cy="214.10" r="1.8" fill="#7f71c6" stroke="#6a5cb0" stroke-width="0.4"/>
<circle cx="479.10" cy="214.10" r="1.8" fill="#7f71c6" stroke="#6a5cb0" stroke-width="0.4"/>
<circle cx="478.00" cy="220.40" r="1.8" fill="#7f71c6" stroke="#6a5cb0" stroke-width="0.4"/>
<circle cx="474.90" cy="224.50" r="1.8" fill="#7f71c6" stroke="#6a5cb0" stroke-width="0.4"/>
<circle cx="477.00" cy="226.00" r="1.8" fill="#7f71c6" stroke="#6a5cb0" stroke-width="0.4"/>
<circle cx="474.90" cy="239.75" r="1.8" fill="#7f71c6" stroke="#6a5cb0" stroke-width="0.4"/>
<circle cx="478.00" cy="240.60" r="1.8" fill="#7f71c6" stroke="#6a5cb0" stroke-width="0.4"/>
<circle cx="476.60" cy="242.25" r="1.8" fill="#7f71c6" stroke="#6a5cb0" stroke-width="0.4"/>
<line x1="487.60" y1="220.50" x2="497.40" y2="220.50" stroke="#1a1a1a" stroke-width="1.0"/>
<line x1="492.50" y1="213.50" x2="492.50" y2="224.50" stroke="#1a1a1a" stroke-width="1.0"/>
<line x1="490.20" y1="213.50" x2="494.80" y2="213.50" stroke="#1a1a1a" stroke-width="1.0"/>
<line x1="490.20" y1="224.50" x2="494.80" y2="224.50" stroke="#1a1a1a" stroke-width="1.0"/>
<circle cx="492.00" cy="209.50" r="1.8" fill="#16a2e2" stroke="#0e8cc8" stroke-width="0.4"/>
<circle cx="492.25" cy="218.25" r="1.8" fill="#16a2e2" stroke="#0e8cc8" stroke-width="0.4"/>
<circle cx="490.10" cy="222.25" r="1.8" fill="#16a2e2" stroke="#0e8cc8" stroke-width="0.4"/>
<circle cx="491.40" cy="224.75" r="1.8" fill="#16a2e2" stroke="#0e8cc8" stroke-width="0.4"/>
<circle cx="493.90" cy="225.40" r="1.8" fill="#16a2e2" stroke="#0e8cc8" stroke-width="0.4"/>
<line x1="502.60" y1="209.50" x2="512.40" y2="209.50" stroke="#1a1a1a" stroke-width="1.0"/>
<line x1="507.50" y1="203.50" x2="507.50" y2="216.50" stroke="#1a1a1a" stroke-width="1.0"/>
<line x1="505.20" y1="203.50" x2="509.80" y2="203.50" stroke="#1a1a1a" stroke-width="1.0"/>
<line x1="505.20" y1="216.50" x2="509.80" y2="216.50" stroke="#1a1a1a" stroke-width="1.0"/>
<path d="M505.50 200.55L507.75 202.80L505.50 205.05L503.25 202.80Z" fill="#334861" stroke="#26384d" stroke-width="0.4" stroke-linejoin="round"/>
<path d="M510.00 200.55L512.25 202.80L510.00 205.05L507.75 202.80Z" fill="#334861" stroke="#26384d" stroke-width="0.4" stroke-linejoin="round"/>
<path d="M507.70 204.35L509.95 206.60L507.70 208.85L505.45 206.60Z" fill="#334861" stroke="#26384d" stroke-width="0.4" stroke-linejoin="round"/>
<path d="M505.00 214.05L507.25 216.30L505.00 218.55L502.75 216.30Z" fill="#334861" stroke="#26384d" stroke-width="0.4" stroke-linejoin="round"/>
<path d="M510.40 213.45L512.65 215.70L510.40 217.95L508.15 215.70Z" fill="#334861" stroke="#26384d" stroke-width="0.4" stroke-linejoin="round"/>
</svg></div></body></html>
